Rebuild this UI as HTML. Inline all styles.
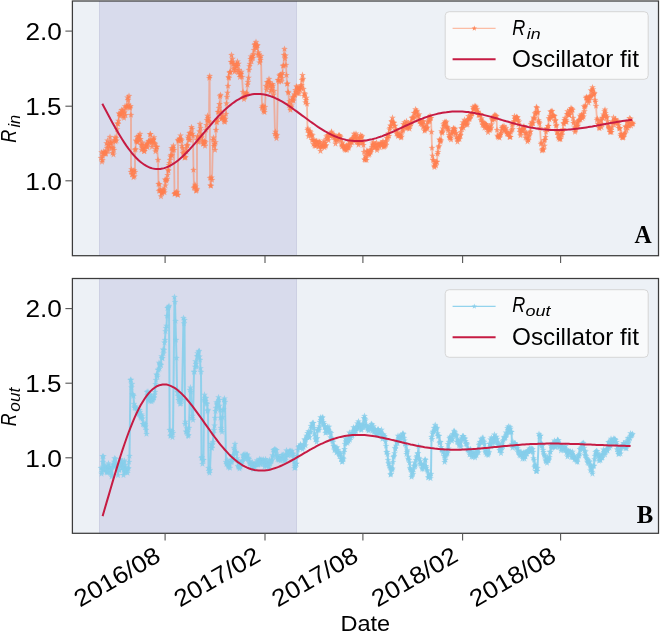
<!DOCTYPE html>
<html><head><meta charset="utf-8"><style>
html,body{margin:0;padding:0;background:#fff;}
svg{display:block}
</style></head><body>
<svg width="662" height="632" viewBox="0 0 662 632">
<defs><path id="s" d="M0.00,-3.50 L0.85,-1.17 L3.33,-1.08 L1.38,0.45 L2.06,2.83 L0.00,1.45 L-2.06,2.83 L-1.38,0.45 L-3.33,-1.08 L-0.85,-1.17Z"/><clipPath id="ct"><rect x="72.4" y="1.0" width="586.1" height="254.7"/></clipPath><clipPath id="cb"><rect x="72.4" y="278.5" width="586.1" height="254.79999999999995"/></clipPath></defs>
<rect width="662" height="632" fill="#fff"/>
<rect x="72.4" y="1.0" width="586.1" height="254.7" fill="#edf1f6"/>
<rect x="99.0" y="1.0" width="198.0" height="254.7" fill="#d8dbec"/>
<path d="M99.5,1.0V255.7M296.5,1.0V255.7" stroke="#cdd0e3" stroke-width="1"/>
<rect x="72.4" y="278.5" width="586.1" height="254.79999999999995" fill="#edf1f6"/>
<rect x="99.0" y="278.5" width="198.0" height="254.79999999999995" fill="#d8dbec"/>
<path d="M99.5,278.5V533.3M296.5,278.5V533.3" stroke="#cdd0e3" stroke-width="1"/>
<g clip-path="url(#ct)">
<path d="M101.0,158.0 L101.5,152.4 L102.0,161.9 L102.5,160.2 L103.0,156.0 L103.5,151.6 L104.0,153.9 L104.5,152.3 L105.0,152.0 L105.5,153.1 L106.0,154.0 L106.5,143.3 L107.0,148.0 L107.5,140.6 L108.0,151.2 L108.5,144.8 L109.0,145.0 L109.5,148.2 L110.0,137.0 L110.5,142.7 L111.0,143.0 L111.5,147.4 L112.0,141.7 L112.5,153.0 L113.0,148.0 L113.5,154.6 L114.0,150.0 L114.5,140.4 L115.0,137.4 L115.5,141.6 L116.0,138.0 L116.5,140.6 L117.0,129.3 L117.5,123.5 L118.0,124.0 L118.5,120.9 L119.0,113.4 L119.5,114.1 L120.0,116.0 L120.5,114.4 L121.0,114.4 L121.5,110.0 L122.0,113.0 L122.5,110.5 L123.0,111.6 L123.5,116.2 L124.0,118.0 L124.5,112.6 L125.0,106.3 L125.5,115.2 L126.0,108.0 L126.5,106.8 L127.0,106.0 L127.5,97.6 L128.0,100.0 L128.5,104.9 L129.0,96.0 L129.5,107.0 L130.0,108.0 L130.5,106.2 L131.0,115.0 L131.0,172.0 L131.5,169.4 L132.0,174.6 L132.5,174.2 L133.0,171.0 L133.5,177.4 L134.0,170.4 L134.5,176.4 L135.0,172.0 L135.0,150.0 L135.5,149.1 L136.0,140.7 L136.5,141.5 L137.0,137.0 L137.5,142.1 L138.0,141.3 L138.5,136.3 L139.0,136.0 L139.5,139.5 L140.0,134.0 L140.5,139.1 L141.0,145.0 L141.5,149.9 L142.0,145.3 L142.5,142.7 L143.0,148.0 L143.5,148.9 L144.0,151.3 L144.5,151.2 L145.0,149.0 L145.5,146.0 L146.0,145.6 L146.5,145.4 L147.0,144.0 L147.5,147.4 L148.0,143.3 L148.5,141.0 L149.0,142.0 L149.5,141.4 L150.0,134.4 L150.5,134.1 L151.0,140.0 L151.5,142.8 L152.0,146.8 L152.5,141.3 L153.0,140.0 L153.5,139.5 L154.0,137.4 L154.5,143.0 L155.0,144.0 L155.5,151.5 L156.0,149.3 L156.5,146.8 L157.0,147.0 L158.0,160.0 L158.5,184.0 L159.0,191.0 L159.5,184.3 L160.0,190.0 L160.5,190.9 L161.0,196.5 L161.5,193.1 L162.0,193.0 L162.5,191.8 L163.0,189.0 L163.5,191.3 L164.0,190.0 L164.5,192.5 L165.0,179.6 L165.5,185.6 L166.0,180.0 L166.5,181.0 L167.0,179.2 L167.5,175.1 L168.0,170.0 L168.5,170.9 L169.0,165.2 L169.5,163.2 L170.0,160.0 L170.5,156.7 L171.0,155.0 L171.5,148.4 L172.0,155.6 L172.5,150.5 L173.0,148.0 L173.5,145.7 L174.0,150.0 L174.5,194.0 L175.0,193.7 L175.5,193.2 L176.0,193.0 L176.5,191.9 L177.0,192.3 L177.5,194.9 L178.0,195.0 L178.0,140.0 L178.5,141.1 L179.0,140.7 L179.5,138.8 L180.0,139.0 L180.5,135.6 L181.0,139.5 L181.5,140.7 L182.0,146.0 L182.5,148.4 L183.0,153.0 L183.5,153.8 L184.0,152.0 L184.5,157.8 L185.0,157.0 L185.5,157.5 L186.0,148.3 L186.5,151.8 L187.0,145.0 L187.5,145.7 L188.0,137.9 L188.5,135.9 L189.0,140.0 L189.5,133.2 L190.0,139.8 L190.5,132.7 L191.0,134.0 L191.5,127.2 L192.0,129.0 L192.5,133.9 L193.0,136.0 L193.5,170.0 L194.0,188.0 L194.5,187.0 L195.0,184.8 L195.5,186.5 L196.0,191.0 L196.5,190.3 L197.0,189.0 L197.0,140.0 L197.5,136.3 L198.0,137.5 L198.5,142.3 L199.0,140.0 L199.5,131.5 L200.0,124.0 L200.5,128.0 L201.0,136.0 L201.5,137.7 L202.0,134.8 L202.5,140.8 L203.0,144.0 L203.5,143.6 L204.0,141.6 L204.5,141.2 L205.0,146.0 L205.5,142.4 L206.0,130.0 L206.5,125.1 L207.0,120.0 L207.5,115.8 L208.0,118.0 L208.5,121.2 L209.0,122.0 L209.3,78.0 L209.7,76.0 L210.0,178.0 L210.5,185.5 L211.0,186.0 L211.5,177.7 L212.0,180.0 L213.0,140.0 L213.5,137.7 L214.0,146.0 L214.5,144.1 L215.0,150.0 L215.5,142.4 L216.0,130.0 L216.5,122.3 L217.0,122.0 L217.5,119.3 L218.0,112.0 L218.5,112.0 L219.0,108.0 L219.5,104.2 L220.0,96.3 L220.5,95.0 L221.0,112.0 L221.5,118.7 L222.0,118.3 L222.5,116.7 L223.0,118.0 L223.5,116.0 L224.0,121.6 L224.5,119.8 L225.0,122.0 L225.5,118.8 L226.0,114.0 L226.5,103.5 L227.0,97.0 L227.5,92.9 L228.0,86.0 L228.5,77.1 L229.0,78.0 L229.5,72.8 L230.0,72.0 L230.5,72.1 L231.0,62.0 L231.5,55.0 L232.0,62.1 L232.5,58.9 L233.0,64.0 L233.5,68.9 L234.0,63.9 L234.5,71.8 L235.0,68.0 L235.5,70.2 L236.0,66.1 L236.5,63.8 L237.0,66.0 L237.5,61.6 L238.0,72.2 L238.5,63.9 L239.0,70.0 L239.5,74.5 L240.0,77.1 L240.5,73.8 L241.0,74.0 L241.5,71.9 L242.0,77.0 L243.0,92.0 L243.5,97.0 L244.0,99.2 L244.5,97.2 L245.0,96.0 L245.5,95.6 L246.0,93.7 L246.5,92.8 L247.0,94.0 L247.5,84.8 L248.0,82.0 L248.5,77.9 L249.0,70.0 L249.5,66.3 L250.0,64.0 L250.5,59.1 L251.0,56.6 L251.5,61.3 L252.0,58.0 L252.5,55.8 L253.0,58.0 L253.5,54.0 L254.0,50.0 L254.5,45.1 L255.0,44.0 L255.5,47.1 L256.0,42.0 L256.5,48.4 L257.0,46.0 L257.5,45.2 L258.0,55.0 L258.5,52.5 L259.0,54.6 L259.5,62.6 L260.0,58.0 L260.5,60.1 L261.0,56.0 L262.0,108.0 L262.5,106.7 L263.0,105.8 L263.5,111.4 L264.0,110.0 L264.5,112.2 L265.0,107.0 L266.0,86.0 L266.5,89.8 L267.0,82.3 L267.5,87.2 L268.0,82.0 L268.5,82.6 L269.0,79.0 L269.5,82.3 L270.0,86.0 L270.5,91.8 L271.0,84.1 L271.5,90.0 L272.0,88.0 L272.5,84.2 L273.0,85.9 L273.5,94.8 L274.0,91.0 L275.0,134.0 L275.5,131.8 L276.0,136.0 L276.5,138.4 L277.0,135.0 L278.0,80.0 L278.5,80.1 L279.0,81.8 L279.5,75.5 L280.0,76.0 L280.5,74.7 L281.0,74.7 L281.5,81.5 L282.0,78.0 L282.5,73.1 L283.0,66.0 L283.5,65.5 L284.0,55.0 L284.5,49.0 L285.0,58.6 L285.5,55.7 L286.0,65.0 L286.5,75.1 L287.0,84.0 L287.5,83.6 L288.0,92.0 L288.5,92.9 L289.0,104.0 L289.5,101.3 L290.0,108.0 L290.5,110.0 L291.0,107.2 L291.5,105.6 L292.0,100.0 L292.5,97.5 L293.0,99.8 L293.5,100.9 L294.0,97.0 L294.5,94.4 L295.0,95.3 L295.5,90.2 L296.0,92.0 L296.5,86.4 L297.0,87.4 L297.5,93.3 L298.0,88.0 L298.5,89.2 L299.0,93.7 L299.5,89.0 L300.0,90.0 L300.5,85.5 L301.0,87.6 L301.5,85.4 L302.0,80.0 L302.5,75.1 L303.0,79.0 L303.5,89.0 L304.0,96.0 L304.5,93.3 L305.0,94.5 L305.5,102.5 L306.0,100.0 L306.5,97.9 L307.0,104.0 L307.5,130.0 L308.0,128.7 L308.5,136.4 L309.0,133.0 L309.5,133.0 L310.0,131.0 L310.5,132.3 L311.0,136.0 L311.5,134.7 L312.0,140.2 L312.5,135.4 L313.0,140.0 L313.5,144.2 L314.0,139.9 L314.5,145.7 L315.0,142.0 L315.5,146.2 L316.0,141.1 L316.5,141.3 L317.0,144.0 L317.5,144.3 L318.0,141.4 L318.5,146.9 L319.0,146.0 L319.5,142.1 L320.0,142.1 L320.5,151.1 L321.0,147.0 L321.5,144.9 L322.0,147.4 L322.5,145.8 L323.0,146.0 L323.5,143.6 L324.0,140.6 L324.5,147.5 L325.0,143.0 L325.5,146.2 L326.0,145.2 L326.5,136.5 L327.0,139.0 L327.5,135.4 L328.0,138.1 L328.5,140.3 L329.0,135.0 L329.5,134.9 L330.0,135.7 L330.5,135.0 L331.0,133.0 L331.5,131.8 L332.0,135.4 L332.5,134.3 L333.0,137.0 L333.5,135.5 L334.0,134.7 L334.5,137.3 L335.0,140.0 L335.5,143.9 L336.0,138.5 L336.5,139.9 L337.0,138.0 L337.5,138.8 L338.0,141.0 L338.5,135.5 L339.0,136.0 L339.5,135.3 L340.0,136.4 L340.5,137.4 L341.0,140.0 L341.5,144.6 L342.0,146.5 L342.5,142.7 L343.0,146.0 L343.5,145.3 L344.0,147.9 L344.5,149.0 L345.0,149.0 L345.5,150.1 L346.0,147.2 L346.5,145.4 L347.0,150.0 L347.5,146.9 L348.0,144.7 L348.5,148.2 L349.0,147.0 L349.5,141.9 L350.0,140.7 L350.5,144.5 L351.0,142.0 L351.5,139.1 L352.0,142.6 L352.5,138.9 L353.0,138.0 L353.5,140.8 L354.0,133.9 L354.5,136.5 L355.0,136.0 L355.5,139.4 L356.0,133.7 L356.5,142.3 L357.0,139.0 L357.5,136.6 L358.0,142.5 L358.5,144.9 L359.0,141.0 L359.5,143.1 L360.0,137.9 L360.5,135.2 L361.0,138.0 L361.5,137.1 L362.0,136.0 L362.5,142.8 L363.0,142.0 L363.5,145.1 L364.0,152.0 L364.5,159.5 L365.0,160.0 L365.5,155.8 L366.0,158.0 L366.5,160.2 L367.0,150.8 L367.5,151.8 L368.0,152.0 L368.5,155.1 L369.0,153.7 L369.5,154.2 L370.0,150.0 L370.5,152.3 L371.0,150.7 L371.5,149.5 L372.0,147.0 L372.5,143.6 L373.0,145.4 L373.5,142.4 L374.0,145.0 L374.5,147.4 L375.0,147.5 L375.5,144.3 L376.0,147.0 L376.5,142.6 L377.0,150.2 L377.5,148.3 L378.0,145.0 L378.5,145.2 L379.0,144.9 L379.5,147.4 L380.0,144.0 L380.5,143.8 L381.0,143.6 L381.5,143.3 L382.0,145.0 L382.5,143.1 L383.0,141.2 L383.5,147.1 L384.0,146.0 L384.5,145.0 L385.0,146.1 L385.5,141.3 L386.0,145.0 L386.5,141.9 L387.0,138.2 L387.5,136.4 L388.0,138.0 L388.5,133.3 L389.0,136.0 L389.5,129.6 L390.0,128.0 L390.5,125.6 L391.0,126.0 L391.5,121.1 L392.0,122.0 L392.5,117.8 L393.0,122.8 L393.5,122.8 L394.0,123.0 L394.5,126.1 L395.0,125.9 L395.5,129.9 L396.0,130.0 L396.5,133.6 L397.0,130.6 L397.5,134.5 L398.0,136.0 L398.5,135.8 L399.0,133.5 L399.5,135.2 L400.0,136.0 L400.5,135.5 L401.0,137.7 L401.5,136.8 L402.0,132.0 L402.5,128.7 L403.0,130.8 L403.5,124.2 L404.0,127.0 L404.5,122.4 L405.0,125.6 L405.5,128.1 L406.0,124.0 L406.5,121.2 L407.0,126.9 L407.5,128.2 L408.0,125.0 L408.5,123.6 L409.0,127.2 L409.5,128.9 L410.0,126.0 L410.5,122.8 L411.0,123.8 L411.5,122.1 L412.0,118.0 L412.5,117.6 L413.0,118.7 L413.5,117.8 L414.0,113.0 L414.5,116.9 L415.0,113.1 L415.5,109.3 L416.0,112.0 L416.5,110.8 L417.0,111.5 L417.5,115.6 L418.0,116.0 L418.5,119.6 L419.0,114.5 L419.5,121.4 L420.0,121.0 L420.5,123.7 L421.0,121.1 L421.5,123.4 L422.0,124.0 L422.5,121.5 L423.0,127.1 L423.5,121.4 L424.0,126.0 L424.5,130.8 L425.0,129.8 L425.5,128.7 L426.0,128.0 L426.5,124.4 L427.0,128.7 L427.5,127.6 L428.0,122.0 L428.5,117.3 L429.0,121.5 L429.5,120.6 L430.0,116.0 L430.5,118.4 L431.0,118.0 L431.5,132.0 L432.0,148.0 L432.5,155.8 L433.0,160.0 L433.5,160.5 L434.0,165.8 L434.5,167.2 L435.0,164.0 L435.5,162.4 L436.0,165.7 L436.5,161.9 L437.0,162.0 L437.5,154.0 L438.0,152.0 L438.5,147.4 L439.0,146.0 L439.5,139.6 L440.0,140.0 L440.5,141.9 L441.0,140.6 L441.5,131.3 L442.0,133.0 L442.5,132.2 L443.0,128.7 L443.5,124.3 L444.0,126.0 L444.5,123.2 L445.0,121.7 L445.5,123.0 L446.0,126.9 L446.5,121.9 L447.0,128.0 L447.5,127.0 L448.0,130.9 L448.5,128.9 L449.0,135.0 L449.5,137.1 L450.0,138.0 L450.5,138.0 L451.0,139.7 L451.5,132.7 L452.0,134.0 L452.5,130.8 L453.0,131.9 L453.5,128.2 L454.0,129.0 L454.5,130.8 L455.0,128.8 L455.5,133.7 L456.0,133.0 L456.5,137.1 L457.0,138.8 L457.5,141.8 L458.0,139.0 L458.5,138.4 L459.0,136.9 L459.5,139.2 L460.0,135.0 L460.5,135.7 L461.0,132.1 L461.5,128.7 L462.0,128.0 L462.5,125.1 L463.0,122.5 L463.5,127.8 L464.0,124.0 L464.5,119.8 L465.0,124.7 L465.5,122.2 L466.0,121.0 L466.5,124.9 L467.0,122.8 L467.5,124.5 L468.0,120.0 L468.5,116.2 L469.0,119.0 L469.5,119.2 L470.0,118.0 L470.5,115.3 L471.0,116.0 L471.5,113.7 L472.0,114.0 L472.5,113.0 L473.0,107.0 L473.5,109.7 L474.0,109.0 L474.5,107.9 L475.0,105.9 L475.5,107.0 L476.0,106.8 L476.5,110.9 L477.0,109.0 L477.5,112.2 L478.0,111.9 L478.5,114.8 L479.0,115.0 L479.5,115.1 L480.0,114.8 L480.5,114.3 L481.0,120.0 L481.5,118.5 L482.0,121.9 L482.5,124.9 L483.0,122.0 L483.5,125.5 L484.0,123.1 L484.5,127.9 L485.0,124.0 L485.5,124.2 L486.0,128.0 L486.5,124.7 L487.0,126.0 L487.5,129.2 L488.0,132.4 L488.5,127.2 L489.0,130.0 L489.5,126.5 L490.0,130.1 L490.5,128.8 L491.0,128.0 L491.5,124.5 L492.0,119.0 L492.5,120.3 L493.0,119.0 L493.5,117.3 L494.0,116.1 L494.5,119.3 L495.0,115.0 L495.5,116.1 L496.0,117.8 L496.5,116.0 L497.0,130.0 L497.5,135.9 L498.0,136.9 L498.5,137.0 L499.0,136.3 L499.5,137.9 L500.0,135.0 L500.5,134.5 L501.0,132.8 L501.5,130.9 L502.0,128.0 L502.5,126.7 L503.0,128.2 L503.5,127.7 L504.0,126.0 L504.5,130.4 L505.0,129.5 L505.5,130.6 L506.0,128.0 L506.5,131.9 L507.0,133.8 L507.5,133.4 L508.0,134.0 L508.5,133.6 L509.0,133.9 L509.5,137.0 L510.0,137.2 L510.5,137.0 L511.0,132.0 L511.5,130.4 L512.0,124.9 L512.5,129.0 L513.0,124.0 L513.5,122.6 L514.0,121.2 L514.5,116.2 L515.0,119.0 L515.5,118.4 L516.0,119.9 L516.5,117.0 L517.0,117.3 L517.5,117.7 L518.0,120.0 L518.5,124.4 L519.0,121.7 L519.5,129.1 L520.0,132.0 L520.5,135.5 L521.0,132.7 L521.5,129.6 L522.0,130.0 L522.5,130.7 L523.0,128.9 L523.5,127.0 L524.0,126.4 L524.5,128.4 L525.0,133.0 L525.5,137.7 L526.0,133.4 L526.5,132.9 L527.0,138.0 L527.5,141.6 L528.0,139.5 L528.5,140.0 L529.0,136.1 L529.5,134.8 L530.0,132.0 L530.5,131.6 L531.0,124.0 L531.5,125.9 L532.0,122.0 L532.5,123.2 L533.0,123.3 L533.5,117.7 L534.0,119.0 L534.5,118.2 L535.0,113.1 L535.5,114.3 L536.0,112.0 L536.5,107.1 L537.0,108.0 L537.5,112.6 L538.0,112.0 L538.5,120.3 L539.0,122.0 L539.5,123.5 L540.0,128.0 L541.0,144.0 L541.5,142.8 L542.0,150.7 L542.5,149.6 L543.0,149.0 L543.5,149.8 L544.0,140.3 L544.5,145.8 L545.0,140.0 L545.5,137.1 L546.0,132.0 L546.5,128.8 L547.0,128.4 L547.5,129.9 L548.0,126.0 L548.5,126.1 L549.0,118.2 L549.5,119.6 L550.0,116.0 L550.5,111.7 L551.0,117.8 L551.5,111.7 L552.0,111.0 L552.5,116.0 L553.0,115.6 L553.5,115.7 L554.0,116.0 L554.5,116.4 L555.0,121.2 L555.5,120.2 L556.0,126.0 L556.5,125.0 L557.0,132.4 L557.5,131.5 L558.0,135.0 L558.5,138.0 L559.0,134.2 L559.5,139.2 L560.0,138.0 L560.5,139.2 L561.0,134.7 L561.5,132.2 L562.0,135.0 L562.5,131.3 L563.0,129.4 L563.5,123.1 L564.0,124.0 L564.5,120.2 L565.0,118.0 L565.5,121.9 L566.0,120.0 L566.5,122.0 L567.0,114.4 L567.5,111.3 L568.0,114.0 L568.5,114.8 L569.0,114.8 L569.5,115.2 L570.0,110.0 L570.5,110.8 L571.0,108.1 L571.5,112.3 L572.0,109.0 L572.5,110.1 L573.0,118.0 L573.5,123.2 L574.0,121.4 L574.5,127.6 L575.0,132.0 L575.5,130.5 L576.0,127.9 L576.5,124.5 L577.0,126.0 L577.5,122.1 L578.0,125.9 L578.5,121.2 L579.0,120.0 L579.5,120.0 L580.0,115.9 L580.5,119.7 L581.0,117.0 L581.5,114.7 L582.0,116.3 L582.5,118.4 L583.0,114.0 L583.5,116.7 L584.0,106.4 L584.5,111.4 L585.0,107.0 L585.5,105.7 L586.0,98.0 L586.5,96.9 L587.0,97.9 L587.5,100.2 L588.0,100.0 L588.5,102.8 L589.0,97.1 L589.5,100.4 L590.0,96.0 L590.5,97.1 L591.0,90.4 L591.5,96.0 L592.0,91.0 L592.5,87.4 L593.0,89.3 L593.5,94.7 L594.0,94.0 L594.5,93.0 L595.0,100.0 L595.5,101.9 L596.0,106.0 L597.0,120.0 L597.5,118.7 L598.0,124.0 L598.5,123.9 L599.0,127.6 L599.5,128.4 L600.0,125.0 L600.5,120.6 L601.0,120.5 L601.5,127.3 L602.0,124.0 L602.5,117.9 L603.0,118.0 L603.5,114.6 L604.0,116.0 L604.5,111.3 L605.0,109.7 L605.5,113.0 L606.0,115.6 L606.5,117.9 L607.0,117.0 L607.5,121.4 L608.0,125.6 L608.5,126.7 L609.0,128.0 L609.5,129.0 L610.0,132.0 L610.5,132.2 L611.0,130.0 L611.5,132.2 L612.0,127.3 L612.5,121.7 L613.0,122.0 L613.5,117.5 L614.0,124.9 L614.5,121.3 L615.0,120.0 L615.5,119.1 L616.0,121.9 L616.5,122.0 L617.0,122.0 L617.5,123.7 L618.0,121.0 L618.5,125.2 L619.0,128.0 L619.5,128.7 L620.0,128.3 L620.5,135.9 L621.0,134.0 L621.5,134.3 L622.0,137.5 L622.5,137.0 L623.0,137.9 L623.5,137.2 L624.0,134.0 L624.5,134.2 L625.0,132.8 L625.5,126.5 L626.0,127.0 L626.5,130.3 L627.0,121.9 L627.5,127.8 L628.0,123.0 L628.5,125.9 L629.0,125.7 L629.5,118.2 L630.0,122.0 L630.5,118.8 L631.0,125.8 L631.5,123.2 L632.0,124.0 L632.5,122.8 L633.0,124.0" fill="none" stroke="#ff7f50" stroke-opacity="0.5" stroke-width="1.8"/>
<g fill="#ff7f50" fill-opacity="0.7">
<use href="#s" x="101.0" y="158.0"/>
<use href="#s" x="101.5" y="152.4"/>
<use href="#s" x="102.0" y="161.9"/>
<use href="#s" x="102.5" y="160.2"/>
<use href="#s" x="103.0" y="156.0"/>
<use href="#s" x="103.5" y="151.6"/>
<use href="#s" x="104.0" y="153.9"/>
<use href="#s" x="104.5" y="152.3"/>
<use href="#s" x="105.0" y="152.0"/>
<use href="#s" x="105.5" y="153.1"/>
<use href="#s" x="106.0" y="154.0"/>
<use href="#s" x="106.5" y="143.3"/>
<use href="#s" x="107.0" y="148.0"/>
<use href="#s" x="107.5" y="140.6"/>
<use href="#s" x="108.0" y="151.2"/>
<use href="#s" x="108.5" y="144.8"/>
<use href="#s" x="109.0" y="145.0"/>
<use href="#s" x="109.5" y="148.2"/>
<use href="#s" x="110.0" y="137.0"/>
<use href="#s" x="110.5" y="142.7"/>
<use href="#s" x="111.0" y="143.0"/>
<use href="#s" x="111.5" y="147.4"/>
<use href="#s" x="112.0" y="141.7"/>
<use href="#s" x="112.5" y="153.0"/>
<use href="#s" x="113.0" y="148.0"/>
<use href="#s" x="113.5" y="154.6"/>
<use href="#s" x="114.0" y="150.0"/>
<use href="#s" x="114.5" y="140.4"/>
<use href="#s" x="115.0" y="137.4"/>
<use href="#s" x="115.5" y="141.6"/>
<use href="#s" x="116.0" y="138.0"/>
<use href="#s" x="116.5" y="140.6"/>
<use href="#s" x="117.0" y="129.3"/>
<use href="#s" x="117.5" y="123.5"/>
<use href="#s" x="118.0" y="124.0"/>
<use href="#s" x="118.5" y="120.9"/>
<use href="#s" x="119.0" y="113.4"/>
<use href="#s" x="119.5" y="114.1"/>
<use href="#s" x="120.0" y="116.0"/>
<use href="#s" x="120.5" y="114.4"/>
<use href="#s" x="121.0" y="114.4"/>
<use href="#s" x="121.5" y="110.0"/>
<use href="#s" x="122.0" y="113.0"/>
<use href="#s" x="122.5" y="110.5"/>
<use href="#s" x="123.0" y="111.6"/>
<use href="#s" x="123.5" y="116.2"/>
<use href="#s" x="124.0" y="118.0"/>
<use href="#s" x="124.5" y="112.6"/>
<use href="#s" x="125.0" y="106.3"/>
<use href="#s" x="125.5" y="115.2"/>
<use href="#s" x="126.0" y="108.0"/>
<use href="#s" x="126.5" y="106.8"/>
<use href="#s" x="127.0" y="106.0"/>
<use href="#s" x="127.5" y="97.6"/>
<use href="#s" x="128.0" y="100.0"/>
<use href="#s" x="128.5" y="104.9"/>
<use href="#s" x="129.0" y="96.0"/>
<use href="#s" x="129.5" y="107.0"/>
<use href="#s" x="130.0" y="108.0"/>
<use href="#s" x="130.5" y="106.2"/>
<use href="#s" x="131.0" y="115.0"/>
<use href="#s" x="131.0" y="172.0"/>
<use href="#s" x="131.5" y="169.4"/>
<use href="#s" x="132.0" y="174.6"/>
<use href="#s" x="132.5" y="174.2"/>
<use href="#s" x="133.0" y="171.0"/>
<use href="#s" x="133.5" y="177.4"/>
<use href="#s" x="134.0" y="170.4"/>
<use href="#s" x="134.5" y="176.4"/>
<use href="#s" x="135.0" y="172.0"/>
<use href="#s" x="135.0" y="150.0"/>
<use href="#s" x="135.5" y="149.1"/>
<use href="#s" x="136.0" y="140.7"/>
<use href="#s" x="136.5" y="141.5"/>
<use href="#s" x="137.0" y="137.0"/>
<use href="#s" x="137.5" y="142.1"/>
<use href="#s" x="138.0" y="141.3"/>
<use href="#s" x="138.5" y="136.3"/>
<use href="#s" x="139.0" y="136.0"/>
<use href="#s" x="139.5" y="139.5"/>
<use href="#s" x="140.0" y="134.0"/>
<use href="#s" x="140.5" y="139.1"/>
<use href="#s" x="141.0" y="145.0"/>
<use href="#s" x="141.5" y="149.9"/>
<use href="#s" x="142.0" y="145.3"/>
<use href="#s" x="142.5" y="142.7"/>
<use href="#s" x="143.0" y="148.0"/>
<use href="#s" x="143.5" y="148.9"/>
<use href="#s" x="144.0" y="151.3"/>
<use href="#s" x="144.5" y="151.2"/>
<use href="#s" x="145.0" y="149.0"/>
<use href="#s" x="145.5" y="146.0"/>
<use href="#s" x="146.0" y="145.6"/>
<use href="#s" x="146.5" y="145.4"/>
<use href="#s" x="147.0" y="144.0"/>
<use href="#s" x="147.5" y="147.4"/>
<use href="#s" x="148.0" y="143.3"/>
<use href="#s" x="148.5" y="141.0"/>
<use href="#s" x="149.0" y="142.0"/>
<use href="#s" x="149.5" y="141.4"/>
<use href="#s" x="150.0" y="134.4"/>
<use href="#s" x="150.5" y="134.1"/>
<use href="#s" x="151.0" y="140.0"/>
<use href="#s" x="151.5" y="142.8"/>
<use href="#s" x="152.0" y="146.8"/>
<use href="#s" x="152.5" y="141.3"/>
<use href="#s" x="153.0" y="140.0"/>
<use href="#s" x="153.5" y="139.5"/>
<use href="#s" x="154.0" y="137.4"/>
<use href="#s" x="154.5" y="143.0"/>
<use href="#s" x="155.0" y="144.0"/>
<use href="#s" x="155.5" y="151.5"/>
<use href="#s" x="156.0" y="149.3"/>
<use href="#s" x="156.5" y="146.8"/>
<use href="#s" x="157.0" y="147.0"/>
<use href="#s" x="158.0" y="160.0"/>
<use href="#s" x="158.5" y="184.0"/>
<use href="#s" x="159.0" y="191.0"/>
<use href="#s" x="159.5" y="184.3"/>
<use href="#s" x="160.0" y="190.0"/>
<use href="#s" x="160.5" y="190.9"/>
<use href="#s" x="161.0" y="196.5"/>
<use href="#s" x="161.5" y="193.1"/>
<use href="#s" x="162.0" y="193.0"/>
<use href="#s" x="162.5" y="191.8"/>
<use href="#s" x="163.0" y="189.0"/>
<use href="#s" x="163.5" y="191.3"/>
<use href="#s" x="164.0" y="190.0"/>
<use href="#s" x="164.5" y="192.5"/>
<use href="#s" x="165.0" y="179.6"/>
<use href="#s" x="165.5" y="185.6"/>
<use href="#s" x="166.0" y="180.0"/>
<use href="#s" x="166.5" y="181.0"/>
<use href="#s" x="167.0" y="179.2"/>
<use href="#s" x="167.5" y="175.1"/>
<use href="#s" x="168.0" y="170.0"/>
<use href="#s" x="168.5" y="170.9"/>
<use href="#s" x="169.0" y="165.2"/>
<use href="#s" x="169.5" y="163.2"/>
<use href="#s" x="170.0" y="160.0"/>
<use href="#s" x="170.5" y="156.7"/>
<use href="#s" x="171.0" y="155.0"/>
<use href="#s" x="171.5" y="148.4"/>
<use href="#s" x="172.0" y="155.6"/>
<use href="#s" x="172.5" y="150.5"/>
<use href="#s" x="173.0" y="148.0"/>
<use href="#s" x="173.5" y="145.7"/>
<use href="#s" x="174.0" y="150.0"/>
<use href="#s" x="174.5" y="194.0"/>
<use href="#s" x="175.0" y="193.7"/>
<use href="#s" x="175.5" y="193.2"/>
<use href="#s" x="176.0" y="193.0"/>
<use href="#s" x="176.5" y="191.9"/>
<use href="#s" x="177.0" y="192.3"/>
<use href="#s" x="177.5" y="194.9"/>
<use href="#s" x="178.0" y="195.0"/>
<use href="#s" x="178.0" y="140.0"/>
<use href="#s" x="178.5" y="141.1"/>
<use href="#s" x="179.0" y="140.7"/>
<use href="#s" x="179.5" y="138.8"/>
<use href="#s" x="180.0" y="139.0"/>
<use href="#s" x="180.5" y="135.6"/>
<use href="#s" x="181.0" y="139.5"/>
<use href="#s" x="181.5" y="140.7"/>
<use href="#s" x="182.0" y="146.0"/>
<use href="#s" x="182.5" y="148.4"/>
<use href="#s" x="183.0" y="153.0"/>
<use href="#s" x="183.5" y="153.8"/>
<use href="#s" x="184.0" y="152.0"/>
<use href="#s" x="184.5" y="157.8"/>
<use href="#s" x="185.0" y="157.0"/>
<use href="#s" x="185.5" y="157.5"/>
<use href="#s" x="186.0" y="148.3"/>
<use href="#s" x="186.5" y="151.8"/>
<use href="#s" x="187.0" y="145.0"/>
<use href="#s" x="187.5" y="145.7"/>
<use href="#s" x="188.0" y="137.9"/>
<use href="#s" x="188.5" y="135.9"/>
<use href="#s" x="189.0" y="140.0"/>
<use href="#s" x="189.5" y="133.2"/>
<use href="#s" x="190.0" y="139.8"/>
<use href="#s" x="190.5" y="132.7"/>
<use href="#s" x="191.0" y="134.0"/>
<use href="#s" x="191.5" y="127.2"/>
<use href="#s" x="192.0" y="129.0"/>
<use href="#s" x="192.5" y="133.9"/>
<use href="#s" x="193.0" y="136.0"/>
<use href="#s" x="193.5" y="170.0"/>
<use href="#s" x="194.0" y="188.0"/>
<use href="#s" x="194.5" y="187.0"/>
<use href="#s" x="195.0" y="184.8"/>
<use href="#s" x="195.5" y="186.5"/>
<use href="#s" x="196.0" y="191.0"/>
<use href="#s" x="196.5" y="190.3"/>
<use href="#s" x="197.0" y="189.0"/>
<use href="#s" x="197.0" y="140.0"/>
<use href="#s" x="197.5" y="136.3"/>
<use href="#s" x="198.0" y="137.5"/>
<use href="#s" x="198.5" y="142.3"/>
<use href="#s" x="199.0" y="140.0"/>
<use href="#s" x="199.5" y="131.5"/>
<use href="#s" x="200.0" y="124.0"/>
<use href="#s" x="200.5" y="128.0"/>
<use href="#s" x="201.0" y="136.0"/>
<use href="#s" x="201.5" y="137.7"/>
<use href="#s" x="202.0" y="134.8"/>
<use href="#s" x="202.5" y="140.8"/>
<use href="#s" x="203.0" y="144.0"/>
<use href="#s" x="203.5" y="143.6"/>
<use href="#s" x="204.0" y="141.6"/>
<use href="#s" x="204.5" y="141.2"/>
<use href="#s" x="205.0" y="146.0"/>
<use href="#s" x="205.5" y="142.4"/>
<use href="#s" x="206.0" y="130.0"/>
<use href="#s" x="206.5" y="125.1"/>
<use href="#s" x="207.0" y="120.0"/>
<use href="#s" x="207.5" y="115.8"/>
<use href="#s" x="208.0" y="118.0"/>
<use href="#s" x="208.5" y="121.2"/>
<use href="#s" x="209.0" y="122.0"/>
<use href="#s" x="209.3" y="78.0"/>
<use href="#s" x="209.7" y="76.0"/>
<use href="#s" x="210.0" y="178.0"/>
<use href="#s" x="210.5" y="185.5"/>
<use href="#s" x="211.0" y="186.0"/>
<use href="#s" x="211.5" y="177.7"/>
<use href="#s" x="212.0" y="180.0"/>
<use href="#s" x="213.0" y="140.0"/>
<use href="#s" x="213.5" y="137.7"/>
<use href="#s" x="214.0" y="146.0"/>
<use href="#s" x="214.5" y="144.1"/>
<use href="#s" x="215.0" y="150.0"/>
<use href="#s" x="215.5" y="142.4"/>
<use href="#s" x="216.0" y="130.0"/>
<use href="#s" x="216.5" y="122.3"/>
<use href="#s" x="217.0" y="122.0"/>
<use href="#s" x="217.5" y="119.3"/>
<use href="#s" x="218.0" y="112.0"/>
<use href="#s" x="218.5" y="112.0"/>
<use href="#s" x="219.0" y="108.0"/>
<use href="#s" x="219.5" y="104.2"/>
<use href="#s" x="220.0" y="96.3"/>
<use href="#s" x="220.5" y="95.0"/>
<use href="#s" x="221.0" y="112.0"/>
<use href="#s" x="221.5" y="118.7"/>
<use href="#s" x="222.0" y="118.3"/>
<use href="#s" x="222.5" y="116.7"/>
<use href="#s" x="223.0" y="118.0"/>
<use href="#s" x="223.5" y="116.0"/>
<use href="#s" x="224.0" y="121.6"/>
<use href="#s" x="224.5" y="119.8"/>
<use href="#s" x="225.0" y="122.0"/>
<use href="#s" x="225.5" y="118.8"/>
<use href="#s" x="226.0" y="114.0"/>
<use href="#s" x="226.5" y="103.5"/>
<use href="#s" x="227.0" y="97.0"/>
<use href="#s" x="227.5" y="92.9"/>
<use href="#s" x="228.0" y="86.0"/>
<use href="#s" x="228.5" y="77.1"/>
<use href="#s" x="229.0" y="78.0"/>
<use href="#s" x="229.5" y="72.8"/>
<use href="#s" x="230.0" y="72.0"/>
<use href="#s" x="230.5" y="72.1"/>
<use href="#s" x="231.0" y="62.0"/>
<use href="#s" x="231.5" y="55.0"/>
<use href="#s" x="232.0" y="62.1"/>
<use href="#s" x="232.5" y="58.9"/>
<use href="#s" x="233.0" y="64.0"/>
<use href="#s" x="233.5" y="68.9"/>
<use href="#s" x="234.0" y="63.9"/>
<use href="#s" x="234.5" y="71.8"/>
<use href="#s" x="235.0" y="68.0"/>
<use href="#s" x="235.5" y="70.2"/>
<use href="#s" x="236.0" y="66.1"/>
<use href="#s" x="236.5" y="63.8"/>
<use href="#s" x="237.0" y="66.0"/>
<use href="#s" x="237.5" y="61.6"/>
<use href="#s" x="238.0" y="72.2"/>
<use href="#s" x="238.5" y="63.9"/>
<use href="#s" x="239.0" y="70.0"/>
<use href="#s" x="239.5" y="74.5"/>
<use href="#s" x="240.0" y="77.1"/>
<use href="#s" x="240.5" y="73.8"/>
<use href="#s" x="241.0" y="74.0"/>
<use href="#s" x="241.5" y="71.9"/>
<use href="#s" x="242.0" y="77.0"/>
<use href="#s" x="243.0" y="92.0"/>
<use href="#s" x="243.5" y="97.0"/>
<use href="#s" x="244.0" y="99.2"/>
<use href="#s" x="244.5" y="97.2"/>
<use href="#s" x="245.0" y="96.0"/>
<use href="#s" x="245.5" y="95.6"/>
<use href="#s" x="246.0" y="93.7"/>
<use href="#s" x="246.5" y="92.8"/>
<use href="#s" x="247.0" y="94.0"/>
<use href="#s" x="247.5" y="84.8"/>
<use href="#s" x="248.0" y="82.0"/>
<use href="#s" x="248.5" y="77.9"/>
<use href="#s" x="249.0" y="70.0"/>
<use href="#s" x="249.5" y="66.3"/>
<use href="#s" x="250.0" y="64.0"/>
<use href="#s" x="250.5" y="59.1"/>
<use href="#s" x="251.0" y="56.6"/>
<use href="#s" x="251.5" y="61.3"/>
<use href="#s" x="252.0" y="58.0"/>
<use href="#s" x="252.5" y="55.8"/>
<use href="#s" x="253.0" y="58.0"/>
<use href="#s" x="253.5" y="54.0"/>
<use href="#s" x="254.0" y="50.0"/>
<use href="#s" x="254.5" y="45.1"/>
<use href="#s" x="255.0" y="44.0"/>
<use href="#s" x="255.5" y="47.1"/>
<use href="#s" x="256.0" y="42.0"/>
<use href="#s" x="256.5" y="48.4"/>
<use href="#s" x="257.0" y="46.0"/>
<use href="#s" x="257.5" y="45.2"/>
<use href="#s" x="258.0" y="55.0"/>
<use href="#s" x="258.5" y="52.5"/>
<use href="#s" x="259.0" y="54.6"/>
<use href="#s" x="259.5" y="62.6"/>
<use href="#s" x="260.0" y="58.0"/>
<use href="#s" x="260.5" y="60.1"/>
<use href="#s" x="261.0" y="56.0"/>
<use href="#s" x="262.0" y="108.0"/>
<use href="#s" x="262.5" y="106.7"/>
<use href="#s" x="263.0" y="105.8"/>
<use href="#s" x="263.5" y="111.4"/>
<use href="#s" x="264.0" y="110.0"/>
<use href="#s" x="264.5" y="112.2"/>
<use href="#s" x="265.0" y="107.0"/>
<use href="#s" x="266.0" y="86.0"/>
<use href="#s" x="266.5" y="89.8"/>
<use href="#s" x="267.0" y="82.3"/>
<use href="#s" x="267.5" y="87.2"/>
<use href="#s" x="268.0" y="82.0"/>
<use href="#s" x="268.5" y="82.6"/>
<use href="#s" x="269.0" y="79.0"/>
<use href="#s" x="269.5" y="82.3"/>
<use href="#s" x="270.0" y="86.0"/>
<use href="#s" x="270.5" y="91.8"/>
<use href="#s" x="271.0" y="84.1"/>
<use href="#s" x="271.5" y="90.0"/>
<use href="#s" x="272.0" y="88.0"/>
<use href="#s" x="272.5" y="84.2"/>
<use href="#s" x="273.0" y="85.9"/>
<use href="#s" x="273.5" y="94.8"/>
<use href="#s" x="274.0" y="91.0"/>
<use href="#s" x="275.0" y="134.0"/>
<use href="#s" x="275.5" y="131.8"/>
<use href="#s" x="276.0" y="136.0"/>
<use href="#s" x="276.5" y="138.4"/>
<use href="#s" x="277.0" y="135.0"/>
<use href="#s" x="278.0" y="80.0"/>
<use href="#s" x="278.5" y="80.1"/>
<use href="#s" x="279.0" y="81.8"/>
<use href="#s" x="279.5" y="75.5"/>
<use href="#s" x="280.0" y="76.0"/>
<use href="#s" x="280.5" y="74.7"/>
<use href="#s" x="281.0" y="74.7"/>
<use href="#s" x="281.5" y="81.5"/>
<use href="#s" x="282.0" y="78.0"/>
<use href="#s" x="282.5" y="73.1"/>
<use href="#s" x="283.0" y="66.0"/>
<use href="#s" x="283.5" y="65.5"/>
<use href="#s" x="284.0" y="55.0"/>
<use href="#s" x="284.5" y="49.0"/>
<use href="#s" x="285.0" y="58.6"/>
<use href="#s" x="285.5" y="55.7"/>
<use href="#s" x="286.0" y="65.0"/>
<use href="#s" x="286.5" y="75.1"/>
<use href="#s" x="287.0" y="84.0"/>
<use href="#s" x="287.5" y="83.6"/>
<use href="#s" x="288.0" y="92.0"/>
<use href="#s" x="288.5" y="92.9"/>
<use href="#s" x="289.0" y="104.0"/>
<use href="#s" x="289.5" y="101.3"/>
<use href="#s" x="290.0" y="108.0"/>
<use href="#s" x="290.5" y="110.0"/>
<use href="#s" x="291.0" y="107.2"/>
<use href="#s" x="291.5" y="105.6"/>
<use href="#s" x="292.0" y="100.0"/>
<use href="#s" x="292.5" y="97.5"/>
<use href="#s" x="293.0" y="99.8"/>
<use href="#s" x="293.5" y="100.9"/>
<use href="#s" x="294.0" y="97.0"/>
<use href="#s" x="294.5" y="94.4"/>
<use href="#s" x="295.0" y="95.3"/>
<use href="#s" x="295.5" y="90.2"/>
<use href="#s" x="296.0" y="92.0"/>
<use href="#s" x="296.5" y="86.4"/>
<use href="#s" x="297.0" y="87.4"/>
<use href="#s" x="297.5" y="93.3"/>
<use href="#s" x="298.0" y="88.0"/>
<use href="#s" x="298.5" y="89.2"/>
<use href="#s" x="299.0" y="93.7"/>
<use href="#s" x="299.5" y="89.0"/>
<use href="#s" x="300.0" y="90.0"/>
<use href="#s" x="300.5" y="85.5"/>
<use href="#s" x="301.0" y="87.6"/>
<use href="#s" x="301.5" y="85.4"/>
<use href="#s" x="302.0" y="80.0"/>
<use href="#s" x="302.5" y="75.1"/>
<use href="#s" x="303.0" y="79.0"/>
<use href="#s" x="303.5" y="89.0"/>
<use href="#s" x="304.0" y="96.0"/>
<use href="#s" x="304.5" y="93.3"/>
<use href="#s" x="305.0" y="94.5"/>
<use href="#s" x="305.5" y="102.5"/>
<use href="#s" x="306.0" y="100.0"/>
<use href="#s" x="306.5" y="97.9"/>
<use href="#s" x="307.0" y="104.0"/>
<use href="#s" x="307.5" y="130.0"/>
<use href="#s" x="308.0" y="128.7"/>
<use href="#s" x="308.5" y="136.4"/>
<use href="#s" x="309.0" y="133.0"/>
<use href="#s" x="309.5" y="133.0"/>
<use href="#s" x="310.0" y="131.0"/>
<use href="#s" x="310.5" y="132.3"/>
<use href="#s" x="311.0" y="136.0"/>
<use href="#s" x="311.5" y="134.7"/>
<use href="#s" x="312.0" y="140.2"/>
<use href="#s" x="312.5" y="135.4"/>
<use href="#s" x="313.0" y="140.0"/>
<use href="#s" x="313.5" y="144.2"/>
<use href="#s" x="314.0" y="139.9"/>
<use href="#s" x="314.5" y="145.7"/>
<use href="#s" x="315.0" y="142.0"/>
<use href="#s" x="315.5" y="146.2"/>
<use href="#s" x="316.0" y="141.1"/>
<use href="#s" x="316.5" y="141.3"/>
<use href="#s" x="317.0" y="144.0"/>
<use href="#s" x="317.5" y="144.3"/>
<use href="#s" x="318.0" y="141.4"/>
<use href="#s" x="318.5" y="146.9"/>
<use href="#s" x="319.0" y="146.0"/>
<use href="#s" x="319.5" y="142.1"/>
<use href="#s" x="320.0" y="142.1"/>
<use href="#s" x="320.5" y="151.1"/>
<use href="#s" x="321.0" y="147.0"/>
<use href="#s" x="321.5" y="144.9"/>
<use href="#s" x="322.0" y="147.4"/>
<use href="#s" x="322.5" y="145.8"/>
<use href="#s" x="323.0" y="146.0"/>
<use href="#s" x="323.5" y="143.6"/>
<use href="#s" x="324.0" y="140.6"/>
<use href="#s" x="324.5" y="147.5"/>
<use href="#s" x="325.0" y="143.0"/>
<use href="#s" x="325.5" y="146.2"/>
<use href="#s" x="326.0" y="145.2"/>
<use href="#s" x="326.5" y="136.5"/>
<use href="#s" x="327.0" y="139.0"/>
<use href="#s" x="327.5" y="135.4"/>
<use href="#s" x="328.0" y="138.1"/>
<use href="#s" x="328.5" y="140.3"/>
<use href="#s" x="329.0" y="135.0"/>
<use href="#s" x="329.5" y="134.9"/>
<use href="#s" x="330.0" y="135.7"/>
<use href="#s" x="330.5" y="135.0"/>
<use href="#s" x="331.0" y="133.0"/>
<use href="#s" x="331.5" y="131.8"/>
<use href="#s" x="332.0" y="135.4"/>
<use href="#s" x="332.5" y="134.3"/>
<use href="#s" x="333.0" y="137.0"/>
<use href="#s" x="333.5" y="135.5"/>
<use href="#s" x="334.0" y="134.7"/>
<use href="#s" x="334.5" y="137.3"/>
<use href="#s" x="335.0" y="140.0"/>
<use href="#s" x="335.5" y="143.9"/>
<use href="#s" x="336.0" y="138.5"/>
<use href="#s" x="336.5" y="139.9"/>
<use href="#s" x="337.0" y="138.0"/>
<use href="#s" x="337.5" y="138.8"/>
<use href="#s" x="338.0" y="141.0"/>
<use href="#s" x="338.5" y="135.5"/>
<use href="#s" x="339.0" y="136.0"/>
<use href="#s" x="339.5" y="135.3"/>
<use href="#s" x="340.0" y="136.4"/>
<use href="#s" x="340.5" y="137.4"/>
<use href="#s" x="341.0" y="140.0"/>
<use href="#s" x="341.5" y="144.6"/>
<use href="#s" x="342.0" y="146.5"/>
<use href="#s" x="342.5" y="142.7"/>
<use href="#s" x="343.0" y="146.0"/>
<use href="#s" x="343.5" y="145.3"/>
<use href="#s" x="344.0" y="147.9"/>
<use href="#s" x="344.5" y="149.0"/>
<use href="#s" x="345.0" y="149.0"/>
<use href="#s" x="345.5" y="150.1"/>
<use href="#s" x="346.0" y="147.2"/>
<use href="#s" x="346.5" y="145.4"/>
<use href="#s" x="347.0" y="150.0"/>
<use href="#s" x="347.5" y="146.9"/>
<use href="#s" x="348.0" y="144.7"/>
<use href="#s" x="348.5" y="148.2"/>
<use href="#s" x="349.0" y="147.0"/>
<use href="#s" x="349.5" y="141.9"/>
<use href="#s" x="350.0" y="140.7"/>
<use href="#s" x="350.5" y="144.5"/>
<use href="#s" x="351.0" y="142.0"/>
<use href="#s" x="351.5" y="139.1"/>
<use href="#s" x="352.0" y="142.6"/>
<use href="#s" x="352.5" y="138.9"/>
<use href="#s" x="353.0" y="138.0"/>
<use href="#s" x="353.5" y="140.8"/>
<use href="#s" x="354.0" y="133.9"/>
<use href="#s" x="354.5" y="136.5"/>
<use href="#s" x="355.0" y="136.0"/>
<use href="#s" x="355.5" y="139.4"/>
<use href="#s" x="356.0" y="133.7"/>
<use href="#s" x="356.5" y="142.3"/>
<use href="#s" x="357.0" y="139.0"/>
<use href="#s" x="357.5" y="136.6"/>
<use href="#s" x="358.0" y="142.5"/>
<use href="#s" x="358.5" y="144.9"/>
<use href="#s" x="359.0" y="141.0"/>
<use href="#s" x="359.5" y="143.1"/>
<use href="#s" x="360.0" y="137.9"/>
<use href="#s" x="360.5" y="135.2"/>
<use href="#s" x="361.0" y="138.0"/>
<use href="#s" x="361.5" y="137.1"/>
<use href="#s" x="362.0" y="136.0"/>
<use href="#s" x="362.5" y="142.8"/>
<use href="#s" x="363.0" y="142.0"/>
<use href="#s" x="363.5" y="145.1"/>
<use href="#s" x="364.0" y="152.0"/>
<use href="#s" x="364.5" y="159.5"/>
<use href="#s" x="365.0" y="160.0"/>
<use href="#s" x="365.5" y="155.8"/>
<use href="#s" x="366.0" y="158.0"/>
<use href="#s" x="366.5" y="160.2"/>
<use href="#s" x="367.0" y="150.8"/>
<use href="#s" x="367.5" y="151.8"/>
<use href="#s" x="368.0" y="152.0"/>
<use href="#s" x="368.5" y="155.1"/>
<use href="#s" x="369.0" y="153.7"/>
<use href="#s" x="369.5" y="154.2"/>
<use href="#s" x="370.0" y="150.0"/>
<use href="#s" x="370.5" y="152.3"/>
<use href="#s" x="371.0" y="150.7"/>
<use href="#s" x="371.5" y="149.5"/>
<use href="#s" x="372.0" y="147.0"/>
<use href="#s" x="372.5" y="143.6"/>
<use href="#s" x="373.0" y="145.4"/>
<use href="#s" x="373.5" y="142.4"/>
<use href="#s" x="374.0" y="145.0"/>
<use href="#s" x="374.5" y="147.4"/>
<use href="#s" x="375.0" y="147.5"/>
<use href="#s" x="375.5" y="144.3"/>
<use href="#s" x="376.0" y="147.0"/>
<use href="#s" x="376.5" y="142.6"/>
<use href="#s" x="377.0" y="150.2"/>
<use href="#s" x="377.5" y="148.3"/>
<use href="#s" x="378.0" y="145.0"/>
<use href="#s" x="378.5" y="145.2"/>
<use href="#s" x="379.0" y="144.9"/>
<use href="#s" x="379.5" y="147.4"/>
<use href="#s" x="380.0" y="144.0"/>
<use href="#s" x="380.5" y="143.8"/>
<use href="#s" x="381.0" y="143.6"/>
<use href="#s" x="381.5" y="143.3"/>
<use href="#s" x="382.0" y="145.0"/>
<use href="#s" x="382.5" y="143.1"/>
<use href="#s" x="383.0" y="141.2"/>
<use href="#s" x="383.5" y="147.1"/>
<use href="#s" x="384.0" y="146.0"/>
<use href="#s" x="384.5" y="145.0"/>
<use href="#s" x="385.0" y="146.1"/>
<use href="#s" x="385.5" y="141.3"/>
<use href="#s" x="386.0" y="145.0"/>
<use href="#s" x="386.5" y="141.9"/>
<use href="#s" x="387.0" y="138.2"/>
<use href="#s" x="387.5" y="136.4"/>
<use href="#s" x="388.0" y="138.0"/>
<use href="#s" x="388.5" y="133.3"/>
<use href="#s" x="389.0" y="136.0"/>
<use href="#s" x="389.5" y="129.6"/>
<use href="#s" x="390.0" y="128.0"/>
<use href="#s" x="390.5" y="125.6"/>
<use href="#s" x="391.0" y="126.0"/>
<use href="#s" x="391.5" y="121.1"/>
<use href="#s" x="392.0" y="122.0"/>
<use href="#s" x="392.5" y="117.8"/>
<use href="#s" x="393.0" y="122.8"/>
<use href="#s" x="393.5" y="122.8"/>
<use href="#s" x="394.0" y="123.0"/>
<use href="#s" x="394.5" y="126.1"/>
<use href="#s" x="395.0" y="125.9"/>
<use href="#s" x="395.5" y="129.9"/>
<use href="#s" x="396.0" y="130.0"/>
<use href="#s" x="396.5" y="133.6"/>
<use href="#s" x="397.0" y="130.6"/>
<use href="#s" x="397.5" y="134.5"/>
<use href="#s" x="398.0" y="136.0"/>
<use href="#s" x="398.5" y="135.8"/>
<use href="#s" x="399.0" y="133.5"/>
<use href="#s" x="399.5" y="135.2"/>
<use href="#s" x="400.0" y="136.0"/>
<use href="#s" x="400.5" y="135.5"/>
<use href="#s" x="401.0" y="137.7"/>
<use href="#s" x="401.5" y="136.8"/>
<use href="#s" x="402.0" y="132.0"/>
<use href="#s" x="402.5" y="128.7"/>
<use href="#s" x="403.0" y="130.8"/>
<use href="#s" x="403.5" y="124.2"/>
<use href="#s" x="404.0" y="127.0"/>
<use href="#s" x="404.5" y="122.4"/>
<use href="#s" x="405.0" y="125.6"/>
<use href="#s" x="405.5" y="128.1"/>
<use href="#s" x="406.0" y="124.0"/>
<use href="#s" x="406.5" y="121.2"/>
<use href="#s" x="407.0" y="126.9"/>
<use href="#s" x="407.5" y="128.2"/>
<use href="#s" x="408.0" y="125.0"/>
<use href="#s" x="408.5" y="123.6"/>
<use href="#s" x="409.0" y="127.2"/>
<use href="#s" x="409.5" y="128.9"/>
<use href="#s" x="410.0" y="126.0"/>
<use href="#s" x="410.5" y="122.8"/>
<use href="#s" x="411.0" y="123.8"/>
<use href="#s" x="411.5" y="122.1"/>
<use href="#s" x="412.0" y="118.0"/>
<use href="#s" x="412.5" y="117.6"/>
<use href="#s" x="413.0" y="118.7"/>
<use href="#s" x="413.5" y="117.8"/>
<use href="#s" x="414.0" y="113.0"/>
<use href="#s" x="414.5" y="116.9"/>
<use href="#s" x="415.0" y="113.1"/>
<use href="#s" x="415.5" y="109.3"/>
<use href="#s" x="416.0" y="112.0"/>
<use href="#s" x="416.5" y="110.8"/>
<use href="#s" x="417.0" y="111.5"/>
<use href="#s" x="417.5" y="115.6"/>
<use href="#s" x="418.0" y="116.0"/>
<use href="#s" x="418.5" y="119.6"/>
<use href="#s" x="419.0" y="114.5"/>
<use href="#s" x="419.5" y="121.4"/>
<use href="#s" x="420.0" y="121.0"/>
<use href="#s" x="420.5" y="123.7"/>
<use href="#s" x="421.0" y="121.1"/>
<use href="#s" x="421.5" y="123.4"/>
<use href="#s" x="422.0" y="124.0"/>
<use href="#s" x="422.5" y="121.5"/>
<use href="#s" x="423.0" y="127.1"/>
<use href="#s" x="423.5" y="121.4"/>
<use href="#s" x="424.0" y="126.0"/>
<use href="#s" x="424.5" y="130.8"/>
<use href="#s" x="425.0" y="129.8"/>
<use href="#s" x="425.5" y="128.7"/>
<use href="#s" x="426.0" y="128.0"/>
<use href="#s" x="426.5" y="124.4"/>
<use href="#s" x="427.0" y="128.7"/>
<use href="#s" x="427.5" y="127.6"/>
<use href="#s" x="428.0" y="122.0"/>
<use href="#s" x="428.5" y="117.3"/>
<use href="#s" x="429.0" y="121.5"/>
<use href="#s" x="429.5" y="120.6"/>
<use href="#s" x="430.0" y="116.0"/>
<use href="#s" x="430.5" y="118.4"/>
<use href="#s" x="431.0" y="118.0"/>
<use href="#s" x="431.5" y="132.0"/>
<use href="#s" x="432.0" y="148.0"/>
<use href="#s" x="432.5" y="155.8"/>
<use href="#s" x="433.0" y="160.0"/>
<use href="#s" x="433.5" y="160.5"/>
<use href="#s" x="434.0" y="165.8"/>
<use href="#s" x="434.5" y="167.2"/>
<use href="#s" x="435.0" y="164.0"/>
<use href="#s" x="435.5" y="162.4"/>
<use href="#s" x="436.0" y="165.7"/>
<use href="#s" x="436.5" y="161.9"/>
<use href="#s" x="437.0" y="162.0"/>
<use href="#s" x="437.5" y="154.0"/>
<use href="#s" x="438.0" y="152.0"/>
<use href="#s" x="438.5" y="147.4"/>
<use href="#s" x="439.0" y="146.0"/>
<use href="#s" x="439.5" y="139.6"/>
<use href="#s" x="440.0" y="140.0"/>
<use href="#s" x="440.5" y="141.9"/>
<use href="#s" x="441.0" y="140.6"/>
<use href="#s" x="441.5" y="131.3"/>
<use href="#s" x="442.0" y="133.0"/>
<use href="#s" x="442.5" y="132.2"/>
<use href="#s" x="443.0" y="128.7"/>
<use href="#s" x="443.5" y="124.3"/>
<use href="#s" x="444.0" y="126.0"/>
<use href="#s" x="444.5" y="123.2"/>
<use href="#s" x="445.0" y="121.7"/>
<use href="#s" x="445.5" y="123.0"/>
<use href="#s" x="446.0" y="126.9"/>
<use href="#s" x="446.5" y="121.9"/>
<use href="#s" x="447.0" y="128.0"/>
<use href="#s" x="447.5" y="127.0"/>
<use href="#s" x="448.0" y="130.9"/>
<use href="#s" x="448.5" y="128.9"/>
<use href="#s" x="449.0" y="135.0"/>
<use href="#s" x="449.5" y="137.1"/>
<use href="#s" x="450.0" y="138.0"/>
<use href="#s" x="450.5" y="138.0"/>
<use href="#s" x="451.0" y="139.7"/>
<use href="#s" x="451.5" y="132.7"/>
<use href="#s" x="452.0" y="134.0"/>
<use href="#s" x="452.5" y="130.8"/>
<use href="#s" x="453.0" y="131.9"/>
<use href="#s" x="453.5" y="128.2"/>
<use href="#s" x="454.0" y="129.0"/>
<use href="#s" x="454.5" y="130.8"/>
<use href="#s" x="455.0" y="128.8"/>
<use href="#s" x="455.5" y="133.7"/>
<use href="#s" x="456.0" y="133.0"/>
<use href="#s" x="456.5" y="137.1"/>
<use href="#s" x="457.0" y="138.8"/>
<use href="#s" x="457.5" y="141.8"/>
<use href="#s" x="458.0" y="139.0"/>
<use href="#s" x="458.5" y="138.4"/>
<use href="#s" x="459.0" y="136.9"/>
<use href="#s" x="459.5" y="139.2"/>
<use href="#s" x="460.0" y="135.0"/>
<use href="#s" x="460.5" y="135.7"/>
<use href="#s" x="461.0" y="132.1"/>
<use href="#s" x="461.5" y="128.7"/>
<use href="#s" x="462.0" y="128.0"/>
<use href="#s" x="462.5" y="125.1"/>
<use href="#s" x="463.0" y="122.5"/>
<use href="#s" x="463.5" y="127.8"/>
<use href="#s" x="464.0" y="124.0"/>
<use href="#s" x="464.5" y="119.8"/>
<use href="#s" x="465.0" y="124.7"/>
<use href="#s" x="465.5" y="122.2"/>
<use href="#s" x="466.0" y="121.0"/>
<use href="#s" x="466.5" y="124.9"/>
<use href="#s" x="467.0" y="122.8"/>
<use href="#s" x="467.5" y="124.5"/>
<use href="#s" x="468.0" y="120.0"/>
<use href="#s" x="468.5" y="116.2"/>
<use href="#s" x="469.0" y="119.0"/>
<use href="#s" x="469.5" y="119.2"/>
<use href="#s" x="470.0" y="118.0"/>
<use href="#s" x="470.5" y="115.3"/>
<use href="#s" x="471.0" y="116.0"/>
<use href="#s" x="471.5" y="113.7"/>
<use href="#s" x="472.0" y="114.0"/>
<use href="#s" x="472.5" y="113.0"/>
<use href="#s" x="473.0" y="107.0"/>
<use href="#s" x="473.5" y="109.7"/>
<use href="#s" x="474.0" y="109.0"/>
<use href="#s" x="474.5" y="107.9"/>
<use href="#s" x="475.0" y="105.9"/>
<use href="#s" x="475.5" y="107.0"/>
<use href="#s" x="476.0" y="106.8"/>
<use href="#s" x="476.5" y="110.9"/>
<use href="#s" x="477.0" y="109.0"/>
<use href="#s" x="477.5" y="112.2"/>
<use href="#s" x="478.0" y="111.9"/>
<use href="#s" x="478.5" y="114.8"/>
<use href="#s" x="479.0" y="115.0"/>
<use href="#s" x="479.5" y="115.1"/>
<use href="#s" x="480.0" y="114.8"/>
<use href="#s" x="480.5" y="114.3"/>
<use href="#s" x="481.0" y="120.0"/>
<use href="#s" x="481.5" y="118.5"/>
<use href="#s" x="482.0" y="121.9"/>
<use href="#s" x="482.5" y="124.9"/>
<use href="#s" x="483.0" y="122.0"/>
<use href="#s" x="483.5" y="125.5"/>
<use href="#s" x="484.0" y="123.1"/>
<use href="#s" x="484.5" y="127.9"/>
<use href="#s" x="485.0" y="124.0"/>
<use href="#s" x="485.5" y="124.2"/>
<use href="#s" x="486.0" y="128.0"/>
<use href="#s" x="486.5" y="124.7"/>
<use href="#s" x="487.0" y="126.0"/>
<use href="#s" x="487.5" y="129.2"/>
<use href="#s" x="488.0" y="132.4"/>
<use href="#s" x="488.5" y="127.2"/>
<use href="#s" x="489.0" y="130.0"/>
<use href="#s" x="489.5" y="126.5"/>
<use href="#s" x="490.0" y="130.1"/>
<use href="#s" x="490.5" y="128.8"/>
<use href="#s" x="491.0" y="128.0"/>
<use href="#s" x="491.5" y="124.5"/>
<use href="#s" x="492.0" y="119.0"/>
<use href="#s" x="492.5" y="120.3"/>
<use href="#s" x="493.0" y="119.0"/>
<use href="#s" x="493.5" y="117.3"/>
<use href="#s" x="494.0" y="116.1"/>
<use href="#s" x="494.5" y="119.3"/>
<use href="#s" x="495.0" y="115.0"/>
<use href="#s" x="495.5" y="116.1"/>
<use href="#s" x="496.0" y="117.8"/>
<use href="#s" x="496.5" y="116.0"/>
<use href="#s" x="497.0" y="130.0"/>
<use href="#s" x="497.5" y="135.9"/>
<use href="#s" x="498.0" y="136.9"/>
<use href="#s" x="498.5" y="137.0"/>
<use href="#s" x="499.0" y="136.3"/>
<use href="#s" x="499.5" y="137.9"/>
<use href="#s" x="500.0" y="135.0"/>
<use href="#s" x="500.5" y="134.5"/>
<use href="#s" x="501.0" y="132.8"/>
<use href="#s" x="501.5" y="130.9"/>
<use href="#s" x="502.0" y="128.0"/>
<use href="#s" x="502.5" y="126.7"/>
<use href="#s" x="503.0" y="128.2"/>
<use href="#s" x="503.5" y="127.7"/>
<use href="#s" x="504.0" y="126.0"/>
<use href="#s" x="504.5" y="130.4"/>
<use href="#s" x="505.0" y="129.5"/>
<use href="#s" x="505.5" y="130.6"/>
<use href="#s" x="506.0" y="128.0"/>
<use href="#s" x="506.5" y="131.9"/>
<use href="#s" x="507.0" y="133.8"/>
<use href="#s" x="507.5" y="133.4"/>
<use href="#s" x="508.0" y="134.0"/>
<use href="#s" x="508.5" y="133.6"/>
<use href="#s" x="509.0" y="133.9"/>
<use href="#s" x="509.5" y="137.0"/>
<use href="#s" x="510.0" y="137.2"/>
<use href="#s" x="510.5" y="137.0"/>
<use href="#s" x="511.0" y="132.0"/>
<use href="#s" x="511.5" y="130.4"/>
<use href="#s" x="512.0" y="124.9"/>
<use href="#s" x="512.5" y="129.0"/>
<use href="#s" x="513.0" y="124.0"/>
<use href="#s" x="513.5" y="122.6"/>
<use href="#s" x="514.0" y="121.2"/>
<use href="#s" x="514.5" y="116.2"/>
<use href="#s" x="515.0" y="119.0"/>
<use href="#s" x="515.5" y="118.4"/>
<use href="#s" x="516.0" y="119.9"/>
<use href="#s" x="516.5" y="117.0"/>
<use href="#s" x="517.0" y="117.3"/>
<use href="#s" x="517.5" y="117.7"/>
<use href="#s" x="518.0" y="120.0"/>
<use href="#s" x="518.5" y="124.4"/>
<use href="#s" x="519.0" y="121.7"/>
<use href="#s" x="519.5" y="129.1"/>
<use href="#s" x="520.0" y="132.0"/>
<use href="#s" x="520.5" y="135.5"/>
<use href="#s" x="521.0" y="132.7"/>
<use href="#s" x="521.5" y="129.6"/>
<use href="#s" x="522.0" y="130.0"/>
<use href="#s" x="522.5" y="130.7"/>
<use href="#s" x="523.0" y="128.9"/>
<use href="#s" x="523.5" y="127.0"/>
<use href="#s" x="524.0" y="126.4"/>
<use href="#s" x="524.5" y="128.4"/>
<use href="#s" x="525.0" y="133.0"/>
<use href="#s" x="525.5" y="137.7"/>
<use href="#s" x="526.0" y="133.4"/>
<use href="#s" x="526.5" y="132.9"/>
<use href="#s" x="527.0" y="138.0"/>
<use href="#s" x="527.5" y="141.6"/>
<use href="#s" x="528.0" y="139.5"/>
<use href="#s" x="528.5" y="140.0"/>
<use href="#s" x="529.0" y="136.1"/>
<use href="#s" x="529.5" y="134.8"/>
<use href="#s" x="530.0" y="132.0"/>
<use href="#s" x="530.5" y="131.6"/>
<use href="#s" x="531.0" y="124.0"/>
<use href="#s" x="531.5" y="125.9"/>
<use href="#s" x="532.0" y="122.0"/>
<use href="#s" x="532.5" y="123.2"/>
<use href="#s" x="533.0" y="123.3"/>
<use href="#s" x="533.5" y="117.7"/>
<use href="#s" x="534.0" y="119.0"/>
<use href="#s" x="534.5" y="118.2"/>
<use href="#s" x="535.0" y="113.1"/>
<use href="#s" x="535.5" y="114.3"/>
<use href="#s" x="536.0" y="112.0"/>
<use href="#s" x="536.5" y="107.1"/>
<use href="#s" x="537.0" y="108.0"/>
<use href="#s" x="537.5" y="112.6"/>
<use href="#s" x="538.0" y="112.0"/>
<use href="#s" x="538.5" y="120.3"/>
<use href="#s" x="539.0" y="122.0"/>
<use href="#s" x="539.5" y="123.5"/>
<use href="#s" x="540.0" y="128.0"/>
<use href="#s" x="541.0" y="144.0"/>
<use href="#s" x="541.5" y="142.8"/>
<use href="#s" x="542.0" y="150.7"/>
<use href="#s" x="542.5" y="149.6"/>
<use href="#s" x="543.0" y="149.0"/>
<use href="#s" x="543.5" y="149.8"/>
<use href="#s" x="544.0" y="140.3"/>
<use href="#s" x="544.5" y="145.8"/>
<use href="#s" x="545.0" y="140.0"/>
<use href="#s" x="545.5" y="137.1"/>
<use href="#s" x="546.0" y="132.0"/>
<use href="#s" x="546.5" y="128.8"/>
<use href="#s" x="547.0" y="128.4"/>
<use href="#s" x="547.5" y="129.9"/>
<use href="#s" x="548.0" y="126.0"/>
<use href="#s" x="548.5" y="126.1"/>
<use href="#s" x="549.0" y="118.2"/>
<use href="#s" x="549.5" y="119.6"/>
<use href="#s" x="550.0" y="116.0"/>
<use href="#s" x="550.5" y="111.7"/>
<use href="#s" x="551.0" y="117.8"/>
<use href="#s" x="551.5" y="111.7"/>
<use href="#s" x="552.0" y="111.0"/>
<use href="#s" x="552.5" y="116.0"/>
<use href="#s" x="553.0" y="115.6"/>
<use href="#s" x="553.5" y="115.7"/>
<use href="#s" x="554.0" y="116.0"/>
<use href="#s" x="554.5" y="116.4"/>
<use href="#s" x="555.0" y="121.2"/>
<use href="#s" x="555.5" y="120.2"/>
<use href="#s" x="556.0" y="126.0"/>
<use href="#s" x="556.5" y="125.0"/>
<use href="#s" x="557.0" y="132.4"/>
<use href="#s" x="557.5" y="131.5"/>
<use href="#s" x="558.0" y="135.0"/>
<use href="#s" x="558.5" y="138.0"/>
<use href="#s" x="559.0" y="134.2"/>
<use href="#s" x="559.5" y="139.2"/>
<use href="#s" x="560.0" y="138.0"/>
<use href="#s" x="560.5" y="139.2"/>
<use href="#s" x="561.0" y="134.7"/>
<use href="#s" x="561.5" y="132.2"/>
<use href="#s" x="562.0" y="135.0"/>
<use href="#s" x="562.5" y="131.3"/>
<use href="#s" x="563.0" y="129.4"/>
<use href="#s" x="563.5" y="123.1"/>
<use href="#s" x="564.0" y="124.0"/>
<use href="#s" x="564.5" y="120.2"/>
<use href="#s" x="565.0" y="118.0"/>
<use href="#s" x="565.5" y="121.9"/>
<use href="#s" x="566.0" y="120.0"/>
<use href="#s" x="566.5" y="122.0"/>
<use href="#s" x="567.0" y="114.4"/>
<use href="#s" x="567.5" y="111.3"/>
<use href="#s" x="568.0" y="114.0"/>
<use href="#s" x="568.5" y="114.8"/>
<use href="#s" x="569.0" y="114.8"/>
<use href="#s" x="569.5" y="115.2"/>
<use href="#s" x="570.0" y="110.0"/>
<use href="#s" x="570.5" y="110.8"/>
<use href="#s" x="571.0" y="108.1"/>
<use href="#s" x="571.5" y="112.3"/>
<use href="#s" x="572.0" y="109.0"/>
<use href="#s" x="572.5" y="110.1"/>
<use href="#s" x="573.0" y="118.0"/>
<use href="#s" x="573.5" y="123.2"/>
<use href="#s" x="574.0" y="121.4"/>
<use href="#s" x="574.5" y="127.6"/>
<use href="#s" x="575.0" y="132.0"/>
<use href="#s" x="575.5" y="130.5"/>
<use href="#s" x="576.0" y="127.9"/>
<use href="#s" x="576.5" y="124.5"/>
<use href="#s" x="577.0" y="126.0"/>
<use href="#s" x="577.5" y="122.1"/>
<use href="#s" x="578.0" y="125.9"/>
<use href="#s" x="578.5" y="121.2"/>
<use href="#s" x="579.0" y="120.0"/>
<use href="#s" x="579.5" y="120.0"/>
<use href="#s" x="580.0" y="115.9"/>
<use href="#s" x="580.5" y="119.7"/>
<use href="#s" x="581.0" y="117.0"/>
<use href="#s" x="581.5" y="114.7"/>
<use href="#s" x="582.0" y="116.3"/>
<use href="#s" x="582.5" y="118.4"/>
<use href="#s" x="583.0" y="114.0"/>
<use href="#s" x="583.5" y="116.7"/>
<use href="#s" x="584.0" y="106.4"/>
<use href="#s" x="584.5" y="111.4"/>
<use href="#s" x="585.0" y="107.0"/>
<use href="#s" x="585.5" y="105.7"/>
<use href="#s" x="586.0" y="98.0"/>
<use href="#s" x="586.5" y="96.9"/>
<use href="#s" x="587.0" y="97.9"/>
<use href="#s" x="587.5" y="100.2"/>
<use href="#s" x="588.0" y="100.0"/>
<use href="#s" x="588.5" y="102.8"/>
<use href="#s" x="589.0" y="97.1"/>
<use href="#s" x="589.5" y="100.4"/>
<use href="#s" x="590.0" y="96.0"/>
<use href="#s" x="590.5" y="97.1"/>
<use href="#s" x="591.0" y="90.4"/>
<use href="#s" x="591.5" y="96.0"/>
<use href="#s" x="592.0" y="91.0"/>
<use href="#s" x="592.5" y="87.4"/>
<use href="#s" x="593.0" y="89.3"/>
<use href="#s" x="593.5" y="94.7"/>
<use href="#s" x="594.0" y="94.0"/>
<use href="#s" x="594.5" y="93.0"/>
<use href="#s" x="595.0" y="100.0"/>
<use href="#s" x="595.5" y="101.9"/>
<use href="#s" x="596.0" y="106.0"/>
<use href="#s" x="597.0" y="120.0"/>
<use href="#s" x="597.5" y="118.7"/>
<use href="#s" x="598.0" y="124.0"/>
<use href="#s" x="598.5" y="123.9"/>
<use href="#s" x="599.0" y="127.6"/>
<use href="#s" x="599.5" y="128.4"/>
<use href="#s" x="600.0" y="125.0"/>
<use href="#s" x="600.5" y="120.6"/>
<use href="#s" x="601.0" y="120.5"/>
<use href="#s" x="601.5" y="127.3"/>
<use href="#s" x="602.0" y="124.0"/>
<use href="#s" x="602.5" y="117.9"/>
<use href="#s" x="603.0" y="118.0"/>
<use href="#s" x="603.5" y="114.6"/>
<use href="#s" x="604.0" y="116.0"/>
<use href="#s" x="604.5" y="111.3"/>
<use href="#s" x="605.0" y="109.7"/>
<use href="#s" x="605.5" y="113.0"/>
<use href="#s" x="606.0" y="115.6"/>
<use href="#s" x="606.5" y="117.9"/>
<use href="#s" x="607.0" y="117.0"/>
<use href="#s" x="607.5" y="121.4"/>
<use href="#s" x="608.0" y="125.6"/>
<use href="#s" x="608.5" y="126.7"/>
<use href="#s" x="609.0" y="128.0"/>
<use href="#s" x="609.5" y="129.0"/>
<use href="#s" x="610.0" y="132.0"/>
<use href="#s" x="610.5" y="132.2"/>
<use href="#s" x="611.0" y="130.0"/>
<use href="#s" x="611.5" y="132.2"/>
<use href="#s" x="612.0" y="127.3"/>
<use href="#s" x="612.5" y="121.7"/>
<use href="#s" x="613.0" y="122.0"/>
<use href="#s" x="613.5" y="117.5"/>
<use href="#s" x="614.0" y="124.9"/>
<use href="#s" x="614.5" y="121.3"/>
<use href="#s" x="615.0" y="120.0"/>
<use href="#s" x="615.5" y="119.1"/>
<use href="#s" x="616.0" y="121.9"/>
<use href="#s" x="616.5" y="122.0"/>
<use href="#s" x="617.0" y="122.0"/>
<use href="#s" x="617.5" y="123.7"/>
<use href="#s" x="618.0" y="121.0"/>
<use href="#s" x="618.5" y="125.2"/>
<use href="#s" x="619.0" y="128.0"/>
<use href="#s" x="619.5" y="128.7"/>
<use href="#s" x="620.0" y="128.3"/>
<use href="#s" x="620.5" y="135.9"/>
<use href="#s" x="621.0" y="134.0"/>
<use href="#s" x="621.5" y="134.3"/>
<use href="#s" x="622.0" y="137.5"/>
<use href="#s" x="622.5" y="137.0"/>
<use href="#s" x="623.0" y="137.9"/>
<use href="#s" x="623.5" y="137.2"/>
<use href="#s" x="624.0" y="134.0"/>
<use href="#s" x="624.5" y="134.2"/>
<use href="#s" x="625.0" y="132.8"/>
<use href="#s" x="625.5" y="126.5"/>
<use href="#s" x="626.0" y="127.0"/>
<use href="#s" x="626.5" y="130.3"/>
<use href="#s" x="627.0" y="121.9"/>
<use href="#s" x="627.5" y="127.8"/>
<use href="#s" x="628.0" y="123.0"/>
<use href="#s" x="628.5" y="125.9"/>
<use href="#s" x="629.0" y="125.7"/>
<use href="#s" x="629.5" y="118.2"/>
<use href="#s" x="630.0" y="122.0"/>
<use href="#s" x="630.5" y="118.8"/>
<use href="#s" x="631.0" y="125.8"/>
<use href="#s" x="631.5" y="123.2"/>
<use href="#s" x="632.0" y="124.0"/>
<use href="#s" x="632.5" y="122.8"/>
<use href="#s" x="633.0" y="124.0"/>
</g>
<path d="M102.3,103.7 L104.3,107.5 L106.3,111.3 L108.3,115.0 L110.3,118.8 L112.3,122.4 L114.3,126.0 L116.3,129.6 L118.3,133.0 L120.3,136.3 L122.3,139.5 L124.3,142.6 L126.3,145.6 L128.3,148.4 L130.3,151.0 L132.3,153.5 L134.3,155.8 L136.3,158.0 L138.3,160.0 L140.3,161.7 L142.3,163.3 L144.3,164.7 L146.3,165.9 L148.3,166.9 L150.3,167.8 L152.3,168.4 L154.3,168.8 L156.3,169.0 L158.3,169.1 L160.3,168.9 L162.3,168.6 L164.3,168.1 L166.3,167.4 L168.3,166.6 L170.3,165.6 L172.3,164.4 L174.3,163.2 L176.3,161.7 L178.3,160.2 L180.3,158.5 L182.3,156.7 L184.3,154.8 L186.3,152.8 L188.3,150.7 L190.3,148.6 L192.3,146.4 L194.3,144.1 L196.3,141.8 L198.3,139.4 L200.3,137.1 L202.3,134.7 L204.3,132.3 L206.3,129.9 L208.3,127.6 L210.3,125.3 L212.3,123.0 L214.3,120.7 L216.3,118.5 L218.3,116.3 L220.3,114.3 L222.3,112.2 L224.3,110.3 L226.3,108.5 L228.3,106.7 L230.3,105.1 L232.3,103.5 L234.3,102.1 L236.3,100.7 L238.3,99.5 L240.3,98.4 L242.3,97.4 L244.3,96.5 L246.3,95.8 L248.3,95.2 L250.3,94.7 L252.3,94.3 L254.3,94.0 L256.3,93.9 L258.3,93.9 L260.3,94.0 L262.3,94.2 L264.3,94.5 L266.3,94.9 L268.3,95.5 L270.3,96.1 L272.3,96.8 L274.3,97.7 L276.3,98.6 L278.3,99.5 L280.3,100.6 L282.3,101.7 L284.3,102.9 L286.3,104.2 L288.3,105.5 L290.3,106.8 L292.3,108.2 L294.3,109.7 L296.3,111.1 L298.3,112.6 L300.3,114.1 L302.3,115.6 L304.3,117.0 L306.3,118.5 L308.3,120.0 L310.3,121.5 L312.3,122.9 L314.3,124.3 L316.3,125.7 L318.3,127.1 L320.3,128.4 L322.3,129.6 L324.3,130.8 L326.3,132.0 L328.3,133.1 L330.3,134.1 L332.3,135.1 L334.3,136.0 L336.3,136.8 L338.3,137.6 L340.3,138.3 L342.3,138.9 L344.3,139.4 L346.3,139.9 L348.3,140.3 L350.3,140.6 L352.3,140.8 L354.3,141.0 L356.3,141.1 L358.3,141.1 L360.3,141.0 L362.3,140.9 L364.3,140.6 L366.3,140.4 L368.3,140.0 L370.3,139.6 L372.3,139.2 L374.3,138.6 L376.3,138.1 L378.3,137.4 L380.3,136.8 L382.3,136.1 L384.3,135.3 L386.3,134.5 L388.3,133.7 L390.3,132.8 L392.3,132.0 L394.3,131.1 L396.3,130.2 L398.3,129.2 L400.3,128.3 L402.3,127.4 L404.3,126.4 L406.3,125.5 L408.3,124.6 L410.3,123.7 L412.3,122.8 L414.3,121.9 L416.3,121.0 L418.3,120.2 L420.3,119.3 L422.3,118.6 L424.3,117.8 L426.3,117.1 L428.3,116.4 L430.3,115.8 L432.3,115.1 L434.3,114.6 L436.3,114.1 L438.3,113.6 L440.3,113.2 L442.3,112.8 L444.3,112.4 L446.3,112.2 L448.3,111.9 L450.3,111.7 L452.3,111.6 L454.3,111.5 L456.3,111.4 L458.3,111.4 L460.3,111.5 L462.3,111.6 L464.3,111.7 L466.3,111.9 L468.3,112.1 L470.3,112.4 L472.3,112.7 L474.3,113.0 L476.3,113.4 L478.3,113.7 L480.3,114.2 L482.3,114.6 L484.3,115.1 L486.3,115.6 L488.3,116.1 L490.3,116.6 L492.3,117.2 L494.3,117.8 L496.3,118.3 L498.3,118.9 L500.3,119.5 L502.3,120.1 L504.3,120.7 L506.3,121.3 L508.3,121.8 L510.3,122.4 L512.3,123.0 L514.3,123.5 L516.3,124.1 L518.3,124.6 L520.3,125.1 L522.3,125.6 L524.3,126.1 L526.3,126.5 L528.3,127.0 L530.3,127.4 L532.3,127.7 L534.3,128.1 L536.3,128.4 L538.3,128.7 L540.3,129.0 L542.3,129.2 L544.3,129.4 L546.3,129.6 L548.3,129.7 L550.3,129.9 L552.3,129.9 L554.3,130.0 L556.3,130.0 L558.3,130.0 L560.3,130.0 L562.3,129.9 L564.3,129.8 L566.3,129.7 L568.3,129.6 L570.3,129.4 L572.3,129.2 L574.3,129.0 L576.3,128.8 L578.3,128.6 L580.3,128.3 L582.3,128.0 L584.3,127.7 L586.3,127.4 L588.3,127.1 L590.3,126.7 L592.3,126.4 L594.3,126.0 L596.3,125.7 L598.3,125.3 L600.3,125.0 L602.3,124.6 L604.3,124.2 L606.3,123.8 L608.3,123.5 L610.3,123.1 L612.3,122.8 L614.3,122.4 L616.3,122.1 L618.3,121.7 L620.3,121.4 L622.3,121.1 L624.3,120.8 L626.3,120.5 L628.3,120.3 L630.3,120.0 L632.3,119.8" fill="none" stroke="#c61b43" stroke-width="2"/>
<rect x="445.2" y="11.7" width="203.0" height="67.6" rx="4" fill="#fafbfc" fill-opacity="0.85" stroke="#d6d6d6" stroke-width="1"/>
<line x1="452.6" y1="28.4" x2="495.6" y2="28.4" stroke="#ff7f50" stroke-opacity="0.5" stroke-width="1.3"/>
<use href="#s" transform="translate(474.3,28.4) scale(0.8)" fill="#ff7f50" fill-opacity="0.9"/>
<line x1="452.6" y1="59.2" x2="495.6" y2="59.2" stroke="#c61b43" stroke-width="2"/>
</g>
<g clip-path="url(#cb)">
<path d="M101.0,468.0 L101.5,473.8 L102.0,472.2 L102.5,456.4 L103.0,462.0 L103.5,456.4 L104.0,469.4 L104.5,468.8 L105.0,466.0 L105.5,470.2 L106.0,465.9 L106.5,472.2 L107.0,472.0 L107.5,472.7 L108.0,471.3 L108.5,463.5 L109.0,468.0 L109.5,467.4 L110.0,467.3 L110.5,473.1 L111.0,470.0 L111.5,476.7 L112.0,474.7 L112.5,467.0 L113.0,465.0 L113.5,464.4 L114.0,461.8 L114.5,458.3 L115.0,466.0 L115.5,458.9 L116.0,466.4 L116.5,464.6 L117.0,468.0 L117.5,466.6 L118.0,475.3 L118.5,469.9 L119.0,470.0 L119.5,470.0 L120.0,463.8 L120.5,459.4 L121.0,466.0 L121.5,463.7 L122.0,461.2 L122.5,467.7 L123.0,468.0 L123.5,475.2 L124.0,469.3 L124.5,460.7 L125.0,465.0 L125.5,472.0 L126.0,471.2 L126.5,471.0 L127.0,468.0 L127.5,473.0 L128.0,469.2 L128.5,468.1 L129.0,462.0 L129.5,456.0 L130.5,380.0 L131.0,379.9 L131.5,387.5 L132.0,384.0 L132.5,394.1 L133.0,395.0 L133.5,396.1 L134.0,404.0 L134.5,407.5 L135.0,408.2 L135.5,406.6 L136.0,408.0 L136.5,408.8 L137.0,408.9 L137.5,413.7 L138.0,410.0 L138.5,410.5 L139.0,414.3 L139.5,410.0 L140.0,412.0 L140.5,416.8 L141.0,418.0 L141.5,414.6 L142.0,416.0 L142.5,418.7 L143.0,424.2 L143.5,424.2 L144.0,424.0 L144.5,425.4 L145.0,424.2 L145.5,426.7 L146.0,430.0 L146.5,434.0 L147.0,392.0 L147.5,395.5 L148.0,391.7 L148.5,400.6 L149.0,398.0 L149.5,395.2 L150.0,401.1 L150.5,394.6 L151.0,396.0 L151.5,401.6 L152.0,400.1 L152.5,399.0 L153.0,400.0 L153.5,398.2 L154.0,397.5 L154.5,394.9 L155.0,392.0 L155.5,384.1 L156.0,380.0 L156.5,374.6 L157.0,375.1 L157.5,376.8 L158.0,370.0 L158.5,369.7 L159.0,362.8 L159.5,368.7 L160.0,364.0 L160.5,364.8 L161.0,365.1 L161.5,356.4 L162.0,358.0 L162.5,358.4 L163.0,349.6 L163.5,353.5 L164.0,350.0 L164.5,342.7 L165.0,340.0 L165.5,331.3 L166.0,328.0 L166.5,325.8 L167.0,316.0 L167.5,308.1 L168.0,308.0 L168.5,307.2 L169.0,306.0 L169.7,430.0 L170.3,436.0 L171.0,435.0 L171.5,431.9 L172.0,431.1 L172.5,437.3 L173.0,433.0 L174.5,297.0 L175.0,302.0 L175.5,321.0 L176.0,340.0 L176.5,358.0 L177.0,390.0 L177.5,392.2 L178.0,396.0 L178.5,400.2 L179.0,395.3 L179.5,400.6 L180.0,404.0 L180.5,399.7 L181.0,403.7 L181.5,396.8 L182.0,400.0 L183.5,318.0 L184.0,323.5 L184.5,320.0 L185.0,424.0 L185.5,421.9 L186.0,431.6 L186.5,432.0 L187.0,428.5 L187.5,432.2 L188.0,436.0 L188.5,435.1 L189.0,428.0 L190.0,390.0 L190.5,387.6 L191.0,392.0 L192.0,418.0 L192.5,415.8 L193.0,420.0 L194.0,372.0 L194.5,371.9 L195.0,366.9 L195.5,361.4 L196.0,364.0 L196.5,366.9 L197.0,356.5 L197.5,353.4 L198.0,356.0 L198.5,351.9 L199.0,351.0 L199.5,356.7 L200.0,360.0 L200.5,368.4 L201.0,372.0 L201.5,458.0 L202.0,457.1 L202.5,464.0 L203.0,460.4 L203.5,460.0 L204.0,400.0 L204.5,394.8 L205.0,398.5 L205.5,401.2 L206.0,398.0 L206.5,403.4 L207.0,404.0 L207.5,411.0 L208.0,410.0 L208.5,468.0 L209.0,471.2 L209.5,473.0 L210.0,470.0 L211.0,444.0 L211.5,448.1 L212.0,448.0 L212.5,444.7 L213.0,442.0 L213.5,433.3 L214.0,430.0 L214.5,425.6 L215.0,418.0 L215.5,411.2 L216.0,408.0 L216.5,402.5 L217.0,404.5 L217.5,407.2 L218.0,402.0 L218.5,397.3 L219.0,400.0 L219.5,405.8 L220.0,410.0 L220.5,417.9 L221.0,428.0 L221.5,430.1 L222.0,432.0 L222.5,417.4 L223.0,410.0 L223.5,409.6 L224.0,400.0 L224.5,398.6 L225.0,402.0 L226.0,462.0 L226.5,464.1 L227.0,463.2 L227.5,460.2 L228.0,466.0 L228.5,467.1 L229.0,463.4 L229.5,463.1 L230.0,468.0 L230.5,462.3 L231.0,462.0 L231.5,459.9 L232.0,462.0 L232.5,459.7 L233.0,455.1 L233.5,455.9 L234.0,448.0 L234.5,449.9 L235.0,444.0 L235.5,452.5 L236.0,452.0 L236.5,453.1 L237.0,458.5 L237.5,460.3 L238.0,466.0 L238.5,466.8 L239.0,467.1 L239.5,468.7 L240.0,466.0 L240.5,466.9 L241.0,461.8 L241.5,462.3 L242.0,462.0 L242.5,461.2 L243.0,455.5 L243.5,454.8 L244.0,458.0 L244.5,456.9 L245.0,454.0 L245.5,459.3 L246.0,457.0 L246.5,455.2 L247.0,454.4 L247.5,455.6 L248.0,459.0 L248.5,457.8 L249.0,459.0 L249.5,462.9 L250.0,464.0 L250.5,463.9 L251.0,462.8 L251.5,466.0 L252.0,465.0 L252.5,462.4 L253.0,468.7 L253.5,469.2 L254.0,465.0 L254.5,466.8 L255.0,463.9 L255.5,464.4 L256.0,464.0 L256.5,465.0 L257.0,460.5 L257.5,464.0 L258.0,465.0 L258.5,464.5 L259.0,460.6 L259.5,459.1 L260.0,462.0 L260.5,464.2 L261.0,459.8 L261.5,460.7 L262.0,460.0 L262.5,464.3 L263.0,462.0 L263.5,459.6 L264.0,462.0 L264.5,466.9 L265.0,461.9 L265.5,459.2 L266.0,464.0 L266.5,465.9 L267.0,460.9 L267.5,463.0 L268.0,465.0 L268.5,467.8 L269.0,466.1 L269.5,459.9 L270.0,464.0 L270.5,462.6 L271.0,461.2 L271.5,460.9 L272.0,460.0 L272.5,455.4 L273.0,456.8 L273.5,450.2 L274.0,452.0 L274.5,449.4 L275.0,449.5 L275.5,450.0 L276.0,455.9 L276.5,450.2 L277.0,456.0 L277.5,459.3 L278.0,455.2 L278.5,459.6 L279.0,460.0 L279.5,458.5 L280.0,458.7 L280.5,460.8 L281.0,458.0 L281.5,457.3 L282.0,455.1 L282.5,455.3 L283.0,459.0 L283.5,454.7 L284.0,461.2 L284.5,458.8 L285.0,457.0 L285.5,460.4 L286.0,457.2 L286.5,450.5 L287.0,454.0 L287.5,454.9 L288.0,455.5 L288.5,454.5 L289.0,452.0 L289.5,452.0 L290.0,450.7 L290.5,451.6 L291.0,452.0 L291.5,455.2 L292.0,450.9 L292.5,453.7 L293.0,454.0 L293.5,457.8 L294.0,462.0 L294.5,468.1 L295.0,466.0 L295.5,467.7 L296.0,464.0 L296.5,463.9 L297.0,456.0 L297.5,456.0 L298.0,450.0 L298.5,447.4 L299.0,446.1 L299.5,447.6 L300.0,447.0 L300.5,444.6 L301.0,445.8 L301.5,447.9 L302.0,446.0 L302.5,449.3 L303.0,445.8 L303.5,447.4 L304.0,444.0 L304.5,439.4 L305.0,440.7 L305.5,445.5 L306.0,440.0 L306.5,435.8 L307.0,437.3 L307.5,433.1 L308.0,436.0 L308.5,431.3 L309.0,437.6 L309.5,437.4 L310.0,432.0 L310.5,432.0 L311.0,426.0 L311.5,428.0 L312.1,423.7 L312.7,423.0 L313.4,423.1 L314.0,428.0 L314.5,433.5 L315.0,436.0 L315.5,439.6 L316.1,439.4 L316.6,442.0 L317.1,438.2 L317.5,430.5 L318.0,430.0 L318.5,428.4 L319.0,430.0 L319.5,426.3 L320.0,422.0 L320.5,417.4 L321.0,420.1 L321.5,420.9 L322.0,418.0 L322.5,417.3 L323.0,424.6 L323.5,422.1 L324.0,424.0 L324.5,427.3 L325.0,426.1 L325.5,433.0 L326.0,430.0 L326.5,432.5 L327.0,430.7 L327.5,426.8 L328.0,430.0 L328.5,430.0 L329.0,426.8 L329.5,432.4 L330.0,432.0 L330.5,437.4 L331.0,433.1 L331.5,438.1 L332.0,440.0 L332.5,441.3 L333.0,442.1 L333.5,446.4 L334.0,446.0 L334.5,450.4 L335.0,448.8 L335.5,447.3 L336.0,448.0 L336.5,452.7 L337.0,447.5 L337.5,451.7 L338.0,450.0 L338.5,452.4 L339.0,454.4 L339.5,456.2 L340.0,454.0 L340.5,453.5 L341.0,459.1 L341.5,459.1 L342.0,462.0 L342.5,461.5 L343.0,458.0 L343.5,459.3 L344.0,452.0 L344.5,449.2 L345.0,444.0 L345.5,438.6 L346.0,441.7 L346.5,442.9 L347.0,440.0 L347.5,442.9 L348.0,440.4 L348.5,441.3 L349.0,438.0 L349.5,432.7 L350.0,440.0 L350.5,437.1 L351.0,434.0 L351.5,434.2 L352.0,436.1 L352.5,435.2 L353.0,431.0 L353.5,427.4 L354.0,433.8 L354.5,433.4 L355.0,431.0 L355.5,427.3 L356.0,431.2 L356.5,428.8 L357.0,427.0 L357.5,423.5 L358.0,428.2 L358.5,421.5 L359.0,424.0 L359.5,426.5 L360.0,426.4 L360.5,426.3 L361.0,430.0 L361.5,429.3 L362.0,427.2 L362.5,423.6 L363.0,425.0 L363.5,427.7 L364.0,418.2 L364.5,416.0 L365.0,419.0 L365.5,420.6 L366.0,425.5 L366.5,425.7 L367.0,426.0 L367.5,429.3 L368.0,427.9 L368.5,430.6 L369.0,430.0 L369.5,428.0 L370.0,426.9 L370.5,428.5 L371.0,428.0 L371.5,424.0 L372.0,424.7 L372.5,431.0 L373.0,429.0 L373.5,426.3 L374.0,431.8 L374.5,432.3 L375.0,430.0 L375.5,429.6 L376.0,432.6 L376.5,434.1 L377.0,432.0 L377.5,435.5 L378.0,429.2 L378.5,429.7 L379.0,433.0 L379.5,432.2 L380.0,433.2 L380.5,431.9 L381.0,434.0 L381.5,429.8 L382.0,435.0 L382.5,439.0 L383.0,435.0 L383.5,434.5 L384.0,436.8 L384.5,436.2 L385.0,438.0 L385.5,441.5 L386.0,446.0 L386.5,452.3 L387.0,452.0 L387.5,454.3 L388.0,460.0 L388.5,463.3 L389.0,463.9 L389.5,466.3 L390.0,468.0 L390.5,474.7 L391.0,474.0 L391.5,468.2 L392.0,470.0 L392.5,468.9 L393.0,462.0 L393.5,457.2 L394.0,456.0 L394.5,453.3 L395.0,448.0 L395.5,448.9 L396.0,445.9 L396.5,441.8 L397.0,441.0 L397.5,443.3 L398.0,435.8 L398.5,439.9 L399.0,438.0 L399.5,436.5 L400.0,437.3 L400.5,439.7 L401.0,436.0 L401.5,438.0 L402.0,435.8 L402.5,434.0 L403.0,433.6 L403.5,434.3 L404.0,438.0 L404.5,440.6 L405.0,444.0 L405.5,443.6 L406.0,446.0 L406.5,454.1 L407.0,452.0 L407.5,450.5 L408.0,458.9 L408.5,456.9 L409.0,460.0 L409.5,462.8 L410.0,468.0 L410.5,469.4 L411.0,470.2 L411.5,477.0 L412.0,475.6 L412.5,472.0 L413.0,474.0 L413.5,469.5 L414.0,466.0 L414.5,462.6 L415.0,466.6 L415.5,465.3 L416.0,460.0 L416.5,457.5 L417.0,456.0 L417.5,453.9 L418.0,453.2 L418.5,446.0 L419.0,458.0 L419.5,459.4 L420.0,464.0 L420.5,461.4 L421.0,463.6 L421.5,464.2 L422.0,468.0 L422.5,469.1 L423.0,465.9 L423.5,465.2 L424.0,466.0 L424.5,466.7 L425.0,459.6 L425.5,460.0 L426.0,466.1 L426.5,467.9 L427.0,470.0 L427.6,471.4 L428.1,477.6 L428.7,477.0 L429.4,475.1 L430.0,476.0 L430.5,478.4 L431.0,474.0 L431.5,437.0 L432.0,439.2 L432.5,433.7 L433.0,432.0 L433.5,431.7 L434.0,428.0 L434.6,430.5 L435.2,425.0 L435.8,428.2 L436.4,429.3 L437.0,428.0 L437.5,433.3 L438.0,435.9 L438.5,436.3 L439.0,436.0 L439.5,443.3 L440.0,442.0 L440.5,442.1 L441.0,447.1 L441.5,449.5 L442.0,450.0 L442.5,450.3 L443.0,452.1 L443.5,451.6 L444.0,456.0 L444.6,462.1 L445.3,460.0 L445.9,456.0 L446.4,454.5 L447.0,452.0 L447.5,453.0 L448.0,444.2 L448.5,448.6 L449.0,442.0 L449.5,438.1 L450.0,436.8 L450.5,439.2 L451.0,440.0 L451.5,437.2 L452.0,440.8 L452.5,438.9 L453.0,434.0 L453.6,434.9 L454.2,431.0 L454.8,432.1 L455.4,434.7 L456.0,436.0 L456.5,435.1 L457.0,442.0 L457.5,439.5 L458.0,442.0 L458.5,441.1 L459.0,445.2 L459.5,441.9 L460.0,446.0 L460.5,442.8 L461.0,446.8 L461.5,437.9 L462.0,440.0 L462.5,436.3 L463.0,436.3 L463.5,436.3 L464.0,438.0 L464.5,438.8 L465.0,438.8 L465.5,441.1 L466.0,444.0 L466.5,443.2 L467.0,444.7 L467.5,449.5 L468.0,450.0 L468.5,449.3 L469.0,450.4 L469.5,454.7 L470.0,453.0 L470.5,449.3 L471.0,450.3 L471.5,456.9 L472.0,454.0 L472.5,453.6 L473.0,457.0 L473.5,451.4 L474.0,455.0 L474.5,455.0 L475.0,457.6 L475.5,452.8 L476.0,454.0 L476.5,455.4 L477.0,453.0 L477.5,450.1 L478.0,450.0 L478.5,452.5 L479.0,445.0 L479.5,443.8 L480.0,442.0 L480.6,442.3 L481.1,438.8 L481.7,442.6 L482.2,439.7 L482.8,438.0 L483.4,440.8 L484.0,442.0 L484.5,444.3 L485.0,450.4 L485.5,452.4 L486.0,450.0 L486.5,454.3 L487.0,452.1 L487.5,453.0 L488.0,455.0 L488.5,453.7 L489.0,452.0 L489.5,443.9 L490.0,444.0 L490.5,439.5 L491.0,446.5 L491.5,437.7 L492.0,440.0 L492.5,443.4 L493.0,440.6 L493.5,442.2 L494.0,438.0 L494.5,434.7 L495.0,437.3 L495.5,442.2 L496.0,440.0 L496.5,436.8 L497.0,439.0 L497.5,442.4 L498.0,445.0 L498.5,443.3 L499.0,444.3 L499.5,450.3 L500.0,450.0 L500.5,445.8 L501.0,453.2 L501.5,449.8 L502.0,448.0 L502.5,441.3 L503.0,446.3 L503.5,440.0 L504.0,437.0 L504.5,438.5 L505.0,438.0 L505.5,437.5 L506.0,432.7 L506.5,435.0 L507.0,434.0 L507.5,428.0 L508.0,430.0 L508.5,426.5 L509.0,432.3 L509.5,430.6 L510.0,427.0 L510.5,428.9 L511.0,432.0 L511.5,432.0 L512.0,444.0 L512.5,447.9 L513.0,441.8 L513.5,445.4 L514.0,446.0 L514.5,443.2 L515.0,443.5 L515.5,444.0 L516.0,448.0 L516.5,446.4 L517.0,446.0 L517.5,448.4 L518.0,452.0 L518.5,450.9 L519.0,453.1 L519.5,455.2 L520.0,452.0 L520.5,455.6 L521.0,452.0 L521.5,455.0 L522.0,454.1 L522.5,458.8 L523.0,456.0 L523.5,453.0 L524.0,452.4 L524.5,458.9 L525.0,456.0 L525.5,456.6 L526.0,452.4 L526.5,453.4 L527.0,454.0 L527.5,451.2 L528.0,451.4 L528.5,450.3 L529.0,450.0 L529.5,448.6 L530.0,451.7 L530.5,451.3 L531.0,448.0 L531.5,449.6 L532.0,449.8 L532.5,449.1 L533.0,452.0 L533.5,458.4 L534.0,460.0 L534.5,467.4 L535.0,466.0 L535.5,465.2 L536.0,471.2 L536.5,471.0 L537.0,471.3 L537.5,468.0 L539.0,434.0 L539.5,436.4 L540.0,436.0 L540.5,435.8 L541.0,444.0 L541.5,446.0 L542.0,444.3 L542.5,445.7 L543.0,450.0 L543.5,452.2 L544.0,454.3 L544.5,455.6 L545.0,456.0 L545.5,459.9 L546.0,461.3 L546.5,461.0 L547.0,463.0 L547.5,457.4 L548.0,460.0 L548.5,460.5 L549.0,458.9 L549.5,457.0 L550.0,452.0 L550.5,451.9 L551.0,445.8 L551.5,446.3 L552.0,448.0 L552.5,443.5 L553.0,447.2 L553.5,445.4 L554.0,444.0 L554.5,440.7 L555.0,447.1 L555.5,446.8 L556.0,442.0 L556.5,445.6 L557.0,441.7 L557.5,440.1 L558.0,442.0 L558.5,440.4 L559.0,446.9 L559.5,446.8 L560.0,446.0 L560.5,444.5 L561.0,450.6 L561.5,448.1 L562.0,448.0 L562.5,447.2 L563.0,447.2 L563.5,450.0 L564.0,448.0 L564.5,448.1 L565.0,450.4 L565.5,446.1 L566.0,450.0 L566.5,452.8 L567.0,450.0 L567.5,456.7 L568.0,454.0 L568.5,450.9 L569.0,451.5 L569.5,452.8 L570.0,452.0 L570.5,451.5 L571.0,453.2 L571.5,457.3 L572.0,454.0 L572.5,451.8 L573.0,457.4 L573.5,457.2 L574.0,456.0 L574.5,459.6 L575.0,457.5 L575.5,458.6 L576.0,460.0 L576.5,459.3 L576.9,461.1 L577.4,462.0 L577.9,457.8 L578.5,455.2 L579.0,456.0 L579.5,453.8 L580.0,449.2 L580.5,449.7 L581.0,448.0 L581.6,447.3 L582.1,443.6 L582.7,444.0 L583.4,443.0 L584.0,448.0 L584.5,450.9 L585.0,455.2 L585.5,451.5 L586.0,456.0 L586.5,458.0 L587.0,459.4 L587.5,462.5 L588.0,460.0 L588.5,463.1 L589.0,461.3 L589.5,461.9 L590.0,466.0 L590.5,470.5 L591.0,467.2 L591.5,466.1 L592.0,472.0 L592.5,473.8 L593.0,466.3 L593.5,465.8 L594.0,466.0 L594.5,459.4 L595.0,456.0 L595.5,452.1 L596.0,454.7 L596.5,451.0 L597.0,451.3 L597.5,453.8 L598.0,456.0 L598.5,456.3 L599.0,461.0 L599.5,454.7 L600.0,460.0 L600.5,460.2 L601.0,455.7 L601.5,455.4 L602.0,458.0 L602.5,457.5 L603.0,453.9 L603.5,449.6 L604.0,452.0 L604.5,452.3 L605.0,454.7 L605.5,451.8 L606.0,450.0 L606.5,449.0 L607.0,450.7 L607.5,450.7 L608.0,446.0 L608.5,442.1 L609.0,442.7 L609.5,447.9 L610.0,443.0 L610.5,446.1 L611.0,438.8 L611.5,442.6 L612.0,440.0 L612.5,443.1 L613.0,440.3 L613.5,441.1 L614.0,439.0 L614.5,440.5 L615.0,439.1 L615.5,440.2 L616.0,444.0 L616.5,442.1 L617.0,449.5 L617.5,446.7 L618.0,452.0 L618.5,454.1 L619.0,454.0 L619.5,451.5 L620.0,450.4 L620.5,453.7 L621.0,448.0 L621.5,446.5 L622.0,446.8 L622.5,445.4 L623.0,446.0 L623.5,443.4 L624.0,443.5 L624.5,446.3 L625.0,446.0 L625.5,448.4 L626.0,441.3 L626.5,448.5 L627.0,444.0 L627.5,444.6 L628.0,438.0 L628.5,442.9 L629.0,440.0 L629.5,438.1 L630.0,438.1 L630.5,433.4 L631.0,436.0 L631.5,435.4 L632.0,434.8 L632.5,434.0" fill="none" stroke="#87ceeb" stroke-opacity="0.9" stroke-width="2.0"/>
<g fill="#87ceeb" fill-opacity="0.8">
<use href="#s" x="101.0" y="468.0"/>
<use href="#s" x="101.5" y="473.8"/>
<use href="#s" x="102.0" y="472.2"/>
<use href="#s" x="102.5" y="456.4"/>
<use href="#s" x="103.0" y="462.0"/>
<use href="#s" x="103.5" y="456.4"/>
<use href="#s" x="104.0" y="469.4"/>
<use href="#s" x="104.5" y="468.8"/>
<use href="#s" x="105.0" y="466.0"/>
<use href="#s" x="105.5" y="470.2"/>
<use href="#s" x="106.0" y="465.9"/>
<use href="#s" x="106.5" y="472.2"/>
<use href="#s" x="107.0" y="472.0"/>
<use href="#s" x="107.5" y="472.7"/>
<use href="#s" x="108.0" y="471.3"/>
<use href="#s" x="108.5" y="463.5"/>
<use href="#s" x="109.0" y="468.0"/>
<use href="#s" x="109.5" y="467.4"/>
<use href="#s" x="110.0" y="467.3"/>
<use href="#s" x="110.5" y="473.1"/>
<use href="#s" x="111.0" y="470.0"/>
<use href="#s" x="111.5" y="476.7"/>
<use href="#s" x="112.0" y="474.7"/>
<use href="#s" x="112.5" y="467.0"/>
<use href="#s" x="113.0" y="465.0"/>
<use href="#s" x="113.5" y="464.4"/>
<use href="#s" x="114.0" y="461.8"/>
<use href="#s" x="114.5" y="458.3"/>
<use href="#s" x="115.0" y="466.0"/>
<use href="#s" x="115.5" y="458.9"/>
<use href="#s" x="116.0" y="466.4"/>
<use href="#s" x="116.5" y="464.6"/>
<use href="#s" x="117.0" y="468.0"/>
<use href="#s" x="117.5" y="466.6"/>
<use href="#s" x="118.0" y="475.3"/>
<use href="#s" x="118.5" y="469.9"/>
<use href="#s" x="119.0" y="470.0"/>
<use href="#s" x="119.5" y="470.0"/>
<use href="#s" x="120.0" y="463.8"/>
<use href="#s" x="120.5" y="459.4"/>
<use href="#s" x="121.0" y="466.0"/>
<use href="#s" x="121.5" y="463.7"/>
<use href="#s" x="122.0" y="461.2"/>
<use href="#s" x="122.5" y="467.7"/>
<use href="#s" x="123.0" y="468.0"/>
<use href="#s" x="123.5" y="475.2"/>
<use href="#s" x="124.0" y="469.3"/>
<use href="#s" x="124.5" y="460.7"/>
<use href="#s" x="125.0" y="465.0"/>
<use href="#s" x="125.5" y="472.0"/>
<use href="#s" x="126.0" y="471.2"/>
<use href="#s" x="126.5" y="471.0"/>
<use href="#s" x="127.0" y="468.0"/>
<use href="#s" x="127.5" y="473.0"/>
<use href="#s" x="128.0" y="469.2"/>
<use href="#s" x="128.5" y="468.1"/>
<use href="#s" x="129.0" y="462.0"/>
<use href="#s" x="129.5" y="456.0"/>
<use href="#s" x="130.5" y="380.0"/>
<use href="#s" x="131.0" y="379.9"/>
<use href="#s" x="131.5" y="387.5"/>
<use href="#s" x="132.0" y="384.0"/>
<use href="#s" x="132.5" y="394.1"/>
<use href="#s" x="133.0" y="395.0"/>
<use href="#s" x="133.5" y="396.1"/>
<use href="#s" x="134.0" y="404.0"/>
<use href="#s" x="134.5" y="407.5"/>
<use href="#s" x="135.0" y="408.2"/>
<use href="#s" x="135.5" y="406.6"/>
<use href="#s" x="136.0" y="408.0"/>
<use href="#s" x="136.5" y="408.8"/>
<use href="#s" x="137.0" y="408.9"/>
<use href="#s" x="137.5" y="413.7"/>
<use href="#s" x="138.0" y="410.0"/>
<use href="#s" x="138.5" y="410.5"/>
<use href="#s" x="139.0" y="414.3"/>
<use href="#s" x="139.5" y="410.0"/>
<use href="#s" x="140.0" y="412.0"/>
<use href="#s" x="140.5" y="416.8"/>
<use href="#s" x="141.0" y="418.0"/>
<use href="#s" x="141.5" y="414.6"/>
<use href="#s" x="142.0" y="416.0"/>
<use href="#s" x="142.5" y="418.7"/>
<use href="#s" x="143.0" y="424.2"/>
<use href="#s" x="143.5" y="424.2"/>
<use href="#s" x="144.0" y="424.0"/>
<use href="#s" x="144.5" y="425.4"/>
<use href="#s" x="145.0" y="424.2"/>
<use href="#s" x="145.5" y="426.7"/>
<use href="#s" x="146.0" y="430.0"/>
<use href="#s" x="146.5" y="434.0"/>
<use href="#s" x="147.0" y="392.0"/>
<use href="#s" x="147.5" y="395.5"/>
<use href="#s" x="148.0" y="391.7"/>
<use href="#s" x="148.5" y="400.6"/>
<use href="#s" x="149.0" y="398.0"/>
<use href="#s" x="149.5" y="395.2"/>
<use href="#s" x="150.0" y="401.1"/>
<use href="#s" x="150.5" y="394.6"/>
<use href="#s" x="151.0" y="396.0"/>
<use href="#s" x="151.5" y="401.6"/>
<use href="#s" x="152.0" y="400.1"/>
<use href="#s" x="152.5" y="399.0"/>
<use href="#s" x="153.0" y="400.0"/>
<use href="#s" x="153.5" y="398.2"/>
<use href="#s" x="154.0" y="397.5"/>
<use href="#s" x="154.5" y="394.9"/>
<use href="#s" x="155.0" y="392.0"/>
<use href="#s" x="155.5" y="384.1"/>
<use href="#s" x="156.0" y="380.0"/>
<use href="#s" x="156.5" y="374.6"/>
<use href="#s" x="157.0" y="375.1"/>
<use href="#s" x="157.5" y="376.8"/>
<use href="#s" x="158.0" y="370.0"/>
<use href="#s" x="158.5" y="369.7"/>
<use href="#s" x="159.0" y="362.8"/>
<use href="#s" x="159.5" y="368.7"/>
<use href="#s" x="160.0" y="364.0"/>
<use href="#s" x="160.5" y="364.8"/>
<use href="#s" x="161.0" y="365.1"/>
<use href="#s" x="161.5" y="356.4"/>
<use href="#s" x="162.0" y="358.0"/>
<use href="#s" x="162.5" y="358.4"/>
<use href="#s" x="163.0" y="349.6"/>
<use href="#s" x="163.5" y="353.5"/>
<use href="#s" x="164.0" y="350.0"/>
<use href="#s" x="164.5" y="342.7"/>
<use href="#s" x="165.0" y="340.0"/>
<use href="#s" x="165.5" y="331.3"/>
<use href="#s" x="166.0" y="328.0"/>
<use href="#s" x="166.5" y="325.8"/>
<use href="#s" x="167.0" y="316.0"/>
<use href="#s" x="167.5" y="308.1"/>
<use href="#s" x="168.0" y="308.0"/>
<use href="#s" x="168.5" y="307.2"/>
<use href="#s" x="169.0" y="306.0"/>
<use href="#s" x="169.7" y="430.0"/>
<use href="#s" x="170.3" y="436.0"/>
<use href="#s" x="171.0" y="435.0"/>
<use href="#s" x="171.5" y="431.9"/>
<use href="#s" x="172.0" y="431.1"/>
<use href="#s" x="172.5" y="437.3"/>
<use href="#s" x="173.0" y="433.0"/>
<use href="#s" x="174.5" y="297.0"/>
<use href="#s" x="175.0" y="302.0"/>
<use href="#s" x="175.5" y="321.0"/>
<use href="#s" x="176.0" y="340.0"/>
<use href="#s" x="176.5" y="358.0"/>
<use href="#s" x="177.0" y="390.0"/>
<use href="#s" x="177.5" y="392.2"/>
<use href="#s" x="178.0" y="396.0"/>
<use href="#s" x="178.5" y="400.2"/>
<use href="#s" x="179.0" y="395.3"/>
<use href="#s" x="179.5" y="400.6"/>
<use href="#s" x="180.0" y="404.0"/>
<use href="#s" x="180.5" y="399.7"/>
<use href="#s" x="181.0" y="403.7"/>
<use href="#s" x="181.5" y="396.8"/>
<use href="#s" x="182.0" y="400.0"/>
<use href="#s" x="183.5" y="318.0"/>
<use href="#s" x="184.0" y="323.5"/>
<use href="#s" x="184.5" y="320.0"/>
<use href="#s" x="185.0" y="424.0"/>
<use href="#s" x="185.5" y="421.9"/>
<use href="#s" x="186.0" y="431.6"/>
<use href="#s" x="186.5" y="432.0"/>
<use href="#s" x="187.0" y="428.5"/>
<use href="#s" x="187.5" y="432.2"/>
<use href="#s" x="188.0" y="436.0"/>
<use href="#s" x="188.5" y="435.1"/>
<use href="#s" x="189.0" y="428.0"/>
<use href="#s" x="190.0" y="390.0"/>
<use href="#s" x="190.5" y="387.6"/>
<use href="#s" x="191.0" y="392.0"/>
<use href="#s" x="192.0" y="418.0"/>
<use href="#s" x="192.5" y="415.8"/>
<use href="#s" x="193.0" y="420.0"/>
<use href="#s" x="194.0" y="372.0"/>
<use href="#s" x="194.5" y="371.9"/>
<use href="#s" x="195.0" y="366.9"/>
<use href="#s" x="195.5" y="361.4"/>
<use href="#s" x="196.0" y="364.0"/>
<use href="#s" x="196.5" y="366.9"/>
<use href="#s" x="197.0" y="356.5"/>
<use href="#s" x="197.5" y="353.4"/>
<use href="#s" x="198.0" y="356.0"/>
<use href="#s" x="198.5" y="351.9"/>
<use href="#s" x="199.0" y="351.0"/>
<use href="#s" x="199.5" y="356.7"/>
<use href="#s" x="200.0" y="360.0"/>
<use href="#s" x="200.5" y="368.4"/>
<use href="#s" x="201.0" y="372.0"/>
<use href="#s" x="201.5" y="458.0"/>
<use href="#s" x="202.0" y="457.1"/>
<use href="#s" x="202.5" y="464.0"/>
<use href="#s" x="203.0" y="460.4"/>
<use href="#s" x="203.5" y="460.0"/>
<use href="#s" x="204.0" y="400.0"/>
<use href="#s" x="204.5" y="394.8"/>
<use href="#s" x="205.0" y="398.5"/>
<use href="#s" x="205.5" y="401.2"/>
<use href="#s" x="206.0" y="398.0"/>
<use href="#s" x="206.5" y="403.4"/>
<use href="#s" x="207.0" y="404.0"/>
<use href="#s" x="207.5" y="411.0"/>
<use href="#s" x="208.0" y="410.0"/>
<use href="#s" x="208.5" y="468.0"/>
<use href="#s" x="209.0" y="471.2"/>
<use href="#s" x="209.5" y="473.0"/>
<use href="#s" x="210.0" y="470.0"/>
<use href="#s" x="211.0" y="444.0"/>
<use href="#s" x="211.5" y="448.1"/>
<use href="#s" x="212.0" y="448.0"/>
<use href="#s" x="212.5" y="444.7"/>
<use href="#s" x="213.0" y="442.0"/>
<use href="#s" x="213.5" y="433.3"/>
<use href="#s" x="214.0" y="430.0"/>
<use href="#s" x="214.5" y="425.6"/>
<use href="#s" x="215.0" y="418.0"/>
<use href="#s" x="215.5" y="411.2"/>
<use href="#s" x="216.0" y="408.0"/>
<use href="#s" x="216.5" y="402.5"/>
<use href="#s" x="217.0" y="404.5"/>
<use href="#s" x="217.5" y="407.2"/>
<use href="#s" x="218.0" y="402.0"/>
<use href="#s" x="218.5" y="397.3"/>
<use href="#s" x="219.0" y="400.0"/>
<use href="#s" x="219.5" y="405.8"/>
<use href="#s" x="220.0" y="410.0"/>
<use href="#s" x="220.5" y="417.9"/>
<use href="#s" x="221.0" y="428.0"/>
<use href="#s" x="221.5" y="430.1"/>
<use href="#s" x="222.0" y="432.0"/>
<use href="#s" x="222.5" y="417.4"/>
<use href="#s" x="223.0" y="410.0"/>
<use href="#s" x="223.5" y="409.6"/>
<use href="#s" x="224.0" y="400.0"/>
<use href="#s" x="224.5" y="398.6"/>
<use href="#s" x="225.0" y="402.0"/>
<use href="#s" x="226.0" y="462.0"/>
<use href="#s" x="226.5" y="464.1"/>
<use href="#s" x="227.0" y="463.2"/>
<use href="#s" x="227.5" y="460.2"/>
<use href="#s" x="228.0" y="466.0"/>
<use href="#s" x="228.5" y="467.1"/>
<use href="#s" x="229.0" y="463.4"/>
<use href="#s" x="229.5" y="463.1"/>
<use href="#s" x="230.0" y="468.0"/>
<use href="#s" x="230.5" y="462.3"/>
<use href="#s" x="231.0" y="462.0"/>
<use href="#s" x="231.5" y="459.9"/>
<use href="#s" x="232.0" y="462.0"/>
<use href="#s" x="232.5" y="459.7"/>
<use href="#s" x="233.0" y="455.1"/>
<use href="#s" x="233.5" y="455.9"/>
<use href="#s" x="234.0" y="448.0"/>
<use href="#s" x="234.5" y="449.9"/>
<use href="#s" x="235.0" y="444.0"/>
<use href="#s" x="235.5" y="452.5"/>
<use href="#s" x="236.0" y="452.0"/>
<use href="#s" x="236.5" y="453.1"/>
<use href="#s" x="237.0" y="458.5"/>
<use href="#s" x="237.5" y="460.3"/>
<use href="#s" x="238.0" y="466.0"/>
<use href="#s" x="238.5" y="466.8"/>
<use href="#s" x="239.0" y="467.1"/>
<use href="#s" x="239.5" y="468.7"/>
<use href="#s" x="240.0" y="466.0"/>
<use href="#s" x="240.5" y="466.9"/>
<use href="#s" x="241.0" y="461.8"/>
<use href="#s" x="241.5" y="462.3"/>
<use href="#s" x="242.0" y="462.0"/>
<use href="#s" x="242.5" y="461.2"/>
<use href="#s" x="243.0" y="455.5"/>
<use href="#s" x="243.5" y="454.8"/>
<use href="#s" x="244.0" y="458.0"/>
<use href="#s" x="244.5" y="456.9"/>
<use href="#s" x="245.0" y="454.0"/>
<use href="#s" x="245.5" y="459.3"/>
<use href="#s" x="246.0" y="457.0"/>
<use href="#s" x="246.5" y="455.2"/>
<use href="#s" x="247.0" y="454.4"/>
<use href="#s" x="247.5" y="455.6"/>
<use href="#s" x="248.0" y="459.0"/>
<use href="#s" x="248.5" y="457.8"/>
<use href="#s" x="249.0" y="459.0"/>
<use href="#s" x="249.5" y="462.9"/>
<use href="#s" x="250.0" y="464.0"/>
<use href="#s" x="250.5" y="463.9"/>
<use href="#s" x="251.0" y="462.8"/>
<use href="#s" x="251.5" y="466.0"/>
<use href="#s" x="252.0" y="465.0"/>
<use href="#s" x="252.5" y="462.4"/>
<use href="#s" x="253.0" y="468.7"/>
<use href="#s" x="253.5" y="469.2"/>
<use href="#s" x="254.0" y="465.0"/>
<use href="#s" x="254.5" y="466.8"/>
<use href="#s" x="255.0" y="463.9"/>
<use href="#s" x="255.5" y="464.4"/>
<use href="#s" x="256.0" y="464.0"/>
<use href="#s" x="256.5" y="465.0"/>
<use href="#s" x="257.0" y="460.5"/>
<use href="#s" x="257.5" y="464.0"/>
<use href="#s" x="258.0" y="465.0"/>
<use href="#s" x="258.5" y="464.5"/>
<use href="#s" x="259.0" y="460.6"/>
<use href="#s" x="259.5" y="459.1"/>
<use href="#s" x="260.0" y="462.0"/>
<use href="#s" x="260.5" y="464.2"/>
<use href="#s" x="261.0" y="459.8"/>
<use href="#s" x="261.5" y="460.7"/>
<use href="#s" x="262.0" y="460.0"/>
<use href="#s" x="262.5" y="464.3"/>
<use href="#s" x="263.0" y="462.0"/>
<use href="#s" x="263.5" y="459.6"/>
<use href="#s" x="264.0" y="462.0"/>
<use href="#s" x="264.5" y="466.9"/>
<use href="#s" x="265.0" y="461.9"/>
<use href="#s" x="265.5" y="459.2"/>
<use href="#s" x="266.0" y="464.0"/>
<use href="#s" x="266.5" y="465.9"/>
<use href="#s" x="267.0" y="460.9"/>
<use href="#s" x="267.5" y="463.0"/>
<use href="#s" x="268.0" y="465.0"/>
<use href="#s" x="268.5" y="467.8"/>
<use href="#s" x="269.0" y="466.1"/>
<use href="#s" x="269.5" y="459.9"/>
<use href="#s" x="270.0" y="464.0"/>
<use href="#s" x="270.5" y="462.6"/>
<use href="#s" x="271.0" y="461.2"/>
<use href="#s" x="271.5" y="460.9"/>
<use href="#s" x="272.0" y="460.0"/>
<use href="#s" x="272.5" y="455.4"/>
<use href="#s" x="273.0" y="456.8"/>
<use href="#s" x="273.5" y="450.2"/>
<use href="#s" x="274.0" y="452.0"/>
<use href="#s" x="274.5" y="449.4"/>
<use href="#s" x="275.0" y="449.5"/>
<use href="#s" x="275.5" y="450.0"/>
<use href="#s" x="276.0" y="455.9"/>
<use href="#s" x="276.5" y="450.2"/>
<use href="#s" x="277.0" y="456.0"/>
<use href="#s" x="277.5" y="459.3"/>
<use href="#s" x="278.0" y="455.2"/>
<use href="#s" x="278.5" y="459.6"/>
<use href="#s" x="279.0" y="460.0"/>
<use href="#s" x="279.5" y="458.5"/>
<use href="#s" x="280.0" y="458.7"/>
<use href="#s" x="280.5" y="460.8"/>
<use href="#s" x="281.0" y="458.0"/>
<use href="#s" x="281.5" y="457.3"/>
<use href="#s" x="282.0" y="455.1"/>
<use href="#s" x="282.5" y="455.3"/>
<use href="#s" x="283.0" y="459.0"/>
<use href="#s" x="283.5" y="454.7"/>
<use href="#s" x="284.0" y="461.2"/>
<use href="#s" x="284.5" y="458.8"/>
<use href="#s" x="285.0" y="457.0"/>
<use href="#s" x="285.5" y="460.4"/>
<use href="#s" x="286.0" y="457.2"/>
<use href="#s" x="286.5" y="450.5"/>
<use href="#s" x="287.0" y="454.0"/>
<use href="#s" x="287.5" y="454.9"/>
<use href="#s" x="288.0" y="455.5"/>
<use href="#s" x="288.5" y="454.5"/>
<use href="#s" x="289.0" y="452.0"/>
<use href="#s" x="289.5" y="452.0"/>
<use href="#s" x="290.0" y="450.7"/>
<use href="#s" x="290.5" y="451.6"/>
<use href="#s" x="291.0" y="452.0"/>
<use href="#s" x="291.5" y="455.2"/>
<use href="#s" x="292.0" y="450.9"/>
<use href="#s" x="292.5" y="453.7"/>
<use href="#s" x="293.0" y="454.0"/>
<use href="#s" x="293.5" y="457.8"/>
<use href="#s" x="294.0" y="462.0"/>
<use href="#s" x="294.5" y="468.1"/>
<use href="#s" x="295.0" y="466.0"/>
<use href="#s" x="295.5" y="467.7"/>
<use href="#s" x="296.0" y="464.0"/>
<use href="#s" x="296.5" y="463.9"/>
<use href="#s" x="297.0" y="456.0"/>
<use href="#s" x="297.5" y="456.0"/>
<use href="#s" x="298.0" y="450.0"/>
<use href="#s" x="298.5" y="447.4"/>
<use href="#s" x="299.0" y="446.1"/>
<use href="#s" x="299.5" y="447.6"/>
<use href="#s" x="300.0" y="447.0"/>
<use href="#s" x="300.5" y="444.6"/>
<use href="#s" x="301.0" y="445.8"/>
<use href="#s" x="301.5" y="447.9"/>
<use href="#s" x="302.0" y="446.0"/>
<use href="#s" x="302.5" y="449.3"/>
<use href="#s" x="303.0" y="445.8"/>
<use href="#s" x="303.5" y="447.4"/>
<use href="#s" x="304.0" y="444.0"/>
<use href="#s" x="304.5" y="439.4"/>
<use href="#s" x="305.0" y="440.7"/>
<use href="#s" x="305.5" y="445.5"/>
<use href="#s" x="306.0" y="440.0"/>
<use href="#s" x="306.5" y="435.8"/>
<use href="#s" x="307.0" y="437.3"/>
<use href="#s" x="307.5" y="433.1"/>
<use href="#s" x="308.0" y="436.0"/>
<use href="#s" x="308.5" y="431.3"/>
<use href="#s" x="309.0" y="437.6"/>
<use href="#s" x="309.5" y="437.4"/>
<use href="#s" x="310.0" y="432.0"/>
<use href="#s" x="310.5" y="432.0"/>
<use href="#s" x="311.0" y="426.0"/>
<use href="#s" x="311.5" y="428.0"/>
<use href="#s" x="312.1" y="423.7"/>
<use href="#s" x="312.7" y="423.0"/>
<use href="#s" x="313.4" y="423.1"/>
<use href="#s" x="314.0" y="428.0"/>
<use href="#s" x="314.5" y="433.5"/>
<use href="#s" x="315.0" y="436.0"/>
<use href="#s" x="315.5" y="439.6"/>
<use href="#s" x="316.1" y="439.4"/>
<use href="#s" x="316.6" y="442.0"/>
<use href="#s" x="317.1" y="438.2"/>
<use href="#s" x="317.5" y="430.5"/>
<use href="#s" x="318.0" y="430.0"/>
<use href="#s" x="318.5" y="428.4"/>
<use href="#s" x="319.0" y="430.0"/>
<use href="#s" x="319.5" y="426.3"/>
<use href="#s" x="320.0" y="422.0"/>
<use href="#s" x="320.5" y="417.4"/>
<use href="#s" x="321.0" y="420.1"/>
<use href="#s" x="321.5" y="420.9"/>
<use href="#s" x="322.0" y="418.0"/>
<use href="#s" x="322.5" y="417.3"/>
<use href="#s" x="323.0" y="424.6"/>
<use href="#s" x="323.5" y="422.1"/>
<use href="#s" x="324.0" y="424.0"/>
<use href="#s" x="324.5" y="427.3"/>
<use href="#s" x="325.0" y="426.1"/>
<use href="#s" x="325.5" y="433.0"/>
<use href="#s" x="326.0" y="430.0"/>
<use href="#s" x="326.5" y="432.5"/>
<use href="#s" x="327.0" y="430.7"/>
<use href="#s" x="327.5" y="426.8"/>
<use href="#s" x="328.0" y="430.0"/>
<use href="#s" x="328.5" y="430.0"/>
<use href="#s" x="329.0" y="426.8"/>
<use href="#s" x="329.5" y="432.4"/>
<use href="#s" x="330.0" y="432.0"/>
<use href="#s" x="330.5" y="437.4"/>
<use href="#s" x="331.0" y="433.1"/>
<use href="#s" x="331.5" y="438.1"/>
<use href="#s" x="332.0" y="440.0"/>
<use href="#s" x="332.5" y="441.3"/>
<use href="#s" x="333.0" y="442.1"/>
<use href="#s" x="333.5" y="446.4"/>
<use href="#s" x="334.0" y="446.0"/>
<use href="#s" x="334.5" y="450.4"/>
<use href="#s" x="335.0" y="448.8"/>
<use href="#s" x="335.5" y="447.3"/>
<use href="#s" x="336.0" y="448.0"/>
<use href="#s" x="336.5" y="452.7"/>
<use href="#s" x="337.0" y="447.5"/>
<use href="#s" x="337.5" y="451.7"/>
<use href="#s" x="338.0" y="450.0"/>
<use href="#s" x="338.5" y="452.4"/>
<use href="#s" x="339.0" y="454.4"/>
<use href="#s" x="339.5" y="456.2"/>
<use href="#s" x="340.0" y="454.0"/>
<use href="#s" x="340.5" y="453.5"/>
<use href="#s" x="341.0" y="459.1"/>
<use href="#s" x="341.5" y="459.1"/>
<use href="#s" x="342.0" y="462.0"/>
<use href="#s" x="342.5" y="461.5"/>
<use href="#s" x="343.0" y="458.0"/>
<use href="#s" x="343.5" y="459.3"/>
<use href="#s" x="344.0" y="452.0"/>
<use href="#s" x="344.5" y="449.2"/>
<use href="#s" x="345.0" y="444.0"/>
<use href="#s" x="345.5" y="438.6"/>
<use href="#s" x="346.0" y="441.7"/>
<use href="#s" x="346.5" y="442.9"/>
<use href="#s" x="347.0" y="440.0"/>
<use href="#s" x="347.5" y="442.9"/>
<use href="#s" x="348.0" y="440.4"/>
<use href="#s" x="348.5" y="441.3"/>
<use href="#s" x="349.0" y="438.0"/>
<use href="#s" x="349.5" y="432.7"/>
<use href="#s" x="350.0" y="440.0"/>
<use href="#s" x="350.5" y="437.1"/>
<use href="#s" x="351.0" y="434.0"/>
<use href="#s" x="351.5" y="434.2"/>
<use href="#s" x="352.0" y="436.1"/>
<use href="#s" x="352.5" y="435.2"/>
<use href="#s" x="353.0" y="431.0"/>
<use href="#s" x="353.5" y="427.4"/>
<use href="#s" x="354.0" y="433.8"/>
<use href="#s" x="354.5" y="433.4"/>
<use href="#s" x="355.0" y="431.0"/>
<use href="#s" x="355.5" y="427.3"/>
<use href="#s" x="356.0" y="431.2"/>
<use href="#s" x="356.5" y="428.8"/>
<use href="#s" x="357.0" y="427.0"/>
<use href="#s" x="357.5" y="423.5"/>
<use href="#s" x="358.0" y="428.2"/>
<use href="#s" x="358.5" y="421.5"/>
<use href="#s" x="359.0" y="424.0"/>
<use href="#s" x="359.5" y="426.5"/>
<use href="#s" x="360.0" y="426.4"/>
<use href="#s" x="360.5" y="426.3"/>
<use href="#s" x="361.0" y="430.0"/>
<use href="#s" x="361.5" y="429.3"/>
<use href="#s" x="362.0" y="427.2"/>
<use href="#s" x="362.5" y="423.6"/>
<use href="#s" x="363.0" y="425.0"/>
<use href="#s" x="363.5" y="427.7"/>
<use href="#s" x="364.0" y="418.2"/>
<use href="#s" x="364.5" y="416.0"/>
<use href="#s" x="365.0" y="419.0"/>
<use href="#s" x="365.5" y="420.6"/>
<use href="#s" x="366.0" y="425.5"/>
<use href="#s" x="366.5" y="425.7"/>
<use href="#s" x="367.0" y="426.0"/>
<use href="#s" x="367.5" y="429.3"/>
<use href="#s" x="368.0" y="427.9"/>
<use href="#s" x="368.5" y="430.6"/>
<use href="#s" x="369.0" y="430.0"/>
<use href="#s" x="369.5" y="428.0"/>
<use href="#s" x="370.0" y="426.9"/>
<use href="#s" x="370.5" y="428.5"/>
<use href="#s" x="371.0" y="428.0"/>
<use href="#s" x="371.5" y="424.0"/>
<use href="#s" x="372.0" y="424.7"/>
<use href="#s" x="372.5" y="431.0"/>
<use href="#s" x="373.0" y="429.0"/>
<use href="#s" x="373.5" y="426.3"/>
<use href="#s" x="374.0" y="431.8"/>
<use href="#s" x="374.5" y="432.3"/>
<use href="#s" x="375.0" y="430.0"/>
<use href="#s" x="375.5" y="429.6"/>
<use href="#s" x="376.0" y="432.6"/>
<use href="#s" x="376.5" y="434.1"/>
<use href="#s" x="377.0" y="432.0"/>
<use href="#s" x="377.5" y="435.5"/>
<use href="#s" x="378.0" y="429.2"/>
<use href="#s" x="378.5" y="429.7"/>
<use href="#s" x="379.0" y="433.0"/>
<use href="#s" x="379.5" y="432.2"/>
<use href="#s" x="380.0" y="433.2"/>
<use href="#s" x="380.5" y="431.9"/>
<use href="#s" x="381.0" y="434.0"/>
<use href="#s" x="381.5" y="429.8"/>
<use href="#s" x="382.0" y="435.0"/>
<use href="#s" x="382.5" y="439.0"/>
<use href="#s" x="383.0" y="435.0"/>
<use href="#s" x="383.5" y="434.5"/>
<use href="#s" x="384.0" y="436.8"/>
<use href="#s" x="384.5" y="436.2"/>
<use href="#s" x="385.0" y="438.0"/>
<use href="#s" x="385.5" y="441.5"/>
<use href="#s" x="386.0" y="446.0"/>
<use href="#s" x="386.5" y="452.3"/>
<use href="#s" x="387.0" y="452.0"/>
<use href="#s" x="387.5" y="454.3"/>
<use href="#s" x="388.0" y="460.0"/>
<use href="#s" x="388.5" y="463.3"/>
<use href="#s" x="389.0" y="463.9"/>
<use href="#s" x="389.5" y="466.3"/>
<use href="#s" x="390.0" y="468.0"/>
<use href="#s" x="390.5" y="474.7"/>
<use href="#s" x="391.0" y="474.0"/>
<use href="#s" x="391.5" y="468.2"/>
<use href="#s" x="392.0" y="470.0"/>
<use href="#s" x="392.5" y="468.9"/>
<use href="#s" x="393.0" y="462.0"/>
<use href="#s" x="393.5" y="457.2"/>
<use href="#s" x="394.0" y="456.0"/>
<use href="#s" x="394.5" y="453.3"/>
<use href="#s" x="395.0" y="448.0"/>
<use href="#s" x="395.5" y="448.9"/>
<use href="#s" x="396.0" y="445.9"/>
<use href="#s" x="396.5" y="441.8"/>
<use href="#s" x="397.0" y="441.0"/>
<use href="#s" x="397.5" y="443.3"/>
<use href="#s" x="398.0" y="435.8"/>
<use href="#s" x="398.5" y="439.9"/>
<use href="#s" x="399.0" y="438.0"/>
<use href="#s" x="399.5" y="436.5"/>
<use href="#s" x="400.0" y="437.3"/>
<use href="#s" x="400.5" y="439.7"/>
<use href="#s" x="401.0" y="436.0"/>
<use href="#s" x="401.5" y="438.0"/>
<use href="#s" x="402.0" y="435.8"/>
<use href="#s" x="402.5" y="434.0"/>
<use href="#s" x="403.0" y="433.6"/>
<use href="#s" x="403.5" y="434.3"/>
<use href="#s" x="404.0" y="438.0"/>
<use href="#s" x="404.5" y="440.6"/>
<use href="#s" x="405.0" y="444.0"/>
<use href="#s" x="405.5" y="443.6"/>
<use href="#s" x="406.0" y="446.0"/>
<use href="#s" x="406.5" y="454.1"/>
<use href="#s" x="407.0" y="452.0"/>
<use href="#s" x="407.5" y="450.5"/>
<use href="#s" x="408.0" y="458.9"/>
<use href="#s" x="408.5" y="456.9"/>
<use href="#s" x="409.0" y="460.0"/>
<use href="#s" x="409.5" y="462.8"/>
<use href="#s" x="410.0" y="468.0"/>
<use href="#s" x="410.5" y="469.4"/>
<use href="#s" x="411.0" y="470.2"/>
<use href="#s" x="411.5" y="477.0"/>
<use href="#s" x="412.0" y="475.6"/>
<use href="#s" x="412.5" y="472.0"/>
<use href="#s" x="413.0" y="474.0"/>
<use href="#s" x="413.5" y="469.5"/>
<use href="#s" x="414.0" y="466.0"/>
<use href="#s" x="414.5" y="462.6"/>
<use href="#s" x="415.0" y="466.6"/>
<use href="#s" x="415.5" y="465.3"/>
<use href="#s" x="416.0" y="460.0"/>
<use href="#s" x="416.5" y="457.5"/>
<use href="#s" x="417.0" y="456.0"/>
<use href="#s" x="417.5" y="453.9"/>
<use href="#s" x="418.0" y="453.2"/>
<use href="#s" x="418.5" y="446.0"/>
<use href="#s" x="419.0" y="458.0"/>
<use href="#s" x="419.5" y="459.4"/>
<use href="#s" x="420.0" y="464.0"/>
<use href="#s" x="420.5" y="461.4"/>
<use href="#s" x="421.0" y="463.6"/>
<use href="#s" x="421.5" y="464.2"/>
<use href="#s" x="422.0" y="468.0"/>
<use href="#s" x="422.5" y="469.1"/>
<use href="#s" x="423.0" y="465.9"/>
<use href="#s" x="423.5" y="465.2"/>
<use href="#s" x="424.0" y="466.0"/>
<use href="#s" x="424.5" y="466.7"/>
<use href="#s" x="425.0" y="459.6"/>
<use href="#s" x="425.5" y="460.0"/>
<use href="#s" x="426.0" y="466.1"/>
<use href="#s" x="426.5" y="467.9"/>
<use href="#s" x="427.0" y="470.0"/>
<use href="#s" x="427.6" y="471.4"/>
<use href="#s" x="428.1" y="477.6"/>
<use href="#s" x="428.7" y="477.0"/>
<use href="#s" x="429.4" y="475.1"/>
<use href="#s" x="430.0" y="476.0"/>
<use href="#s" x="430.5" y="478.4"/>
<use href="#s" x="431.0" y="474.0"/>
<use href="#s" x="431.5" y="437.0"/>
<use href="#s" x="432.0" y="439.2"/>
<use href="#s" x="432.5" y="433.7"/>
<use href="#s" x="433.0" y="432.0"/>
<use href="#s" x="433.5" y="431.7"/>
<use href="#s" x="434.0" y="428.0"/>
<use href="#s" x="434.6" y="430.5"/>
<use href="#s" x="435.2" y="425.0"/>
<use href="#s" x="435.8" y="428.2"/>
<use href="#s" x="436.4" y="429.3"/>
<use href="#s" x="437.0" y="428.0"/>
<use href="#s" x="437.5" y="433.3"/>
<use href="#s" x="438.0" y="435.9"/>
<use href="#s" x="438.5" y="436.3"/>
<use href="#s" x="439.0" y="436.0"/>
<use href="#s" x="439.5" y="443.3"/>
<use href="#s" x="440.0" y="442.0"/>
<use href="#s" x="440.5" y="442.1"/>
<use href="#s" x="441.0" y="447.1"/>
<use href="#s" x="441.5" y="449.5"/>
<use href="#s" x="442.0" y="450.0"/>
<use href="#s" x="442.5" y="450.3"/>
<use href="#s" x="443.0" y="452.1"/>
<use href="#s" x="443.5" y="451.6"/>
<use href="#s" x="444.0" y="456.0"/>
<use href="#s" x="444.6" y="462.1"/>
<use href="#s" x="445.3" y="460.0"/>
<use href="#s" x="445.9" y="456.0"/>
<use href="#s" x="446.4" y="454.5"/>
<use href="#s" x="447.0" y="452.0"/>
<use href="#s" x="447.5" y="453.0"/>
<use href="#s" x="448.0" y="444.2"/>
<use href="#s" x="448.5" y="448.6"/>
<use href="#s" x="449.0" y="442.0"/>
<use href="#s" x="449.5" y="438.1"/>
<use href="#s" x="450.0" y="436.8"/>
<use href="#s" x="450.5" y="439.2"/>
<use href="#s" x="451.0" y="440.0"/>
<use href="#s" x="451.5" y="437.2"/>
<use href="#s" x="452.0" y="440.8"/>
<use href="#s" x="452.5" y="438.9"/>
<use href="#s" x="453.0" y="434.0"/>
<use href="#s" x="453.6" y="434.9"/>
<use href="#s" x="454.2" y="431.0"/>
<use href="#s" x="454.8" y="432.1"/>
<use href="#s" x="455.4" y="434.7"/>
<use href="#s" x="456.0" y="436.0"/>
<use href="#s" x="456.5" y="435.1"/>
<use href="#s" x="457.0" y="442.0"/>
<use href="#s" x="457.5" y="439.5"/>
<use href="#s" x="458.0" y="442.0"/>
<use href="#s" x="458.5" y="441.1"/>
<use href="#s" x="459.0" y="445.2"/>
<use href="#s" x="459.5" y="441.9"/>
<use href="#s" x="460.0" y="446.0"/>
<use href="#s" x="460.5" y="442.8"/>
<use href="#s" x="461.0" y="446.8"/>
<use href="#s" x="461.5" y="437.9"/>
<use href="#s" x="462.0" y="440.0"/>
<use href="#s" x="462.5" y="436.3"/>
<use href="#s" x="463.0" y="436.3"/>
<use href="#s" x="463.5" y="436.3"/>
<use href="#s" x="464.0" y="438.0"/>
<use href="#s" x="464.5" y="438.8"/>
<use href="#s" x="465.0" y="438.8"/>
<use href="#s" x="465.5" y="441.1"/>
<use href="#s" x="466.0" y="444.0"/>
<use href="#s" x="466.5" y="443.2"/>
<use href="#s" x="467.0" y="444.7"/>
<use href="#s" x="467.5" y="449.5"/>
<use href="#s" x="468.0" y="450.0"/>
<use href="#s" x="468.5" y="449.3"/>
<use href="#s" x="469.0" y="450.4"/>
<use href="#s" x="469.5" y="454.7"/>
<use href="#s" x="470.0" y="453.0"/>
<use href="#s" x="470.5" y="449.3"/>
<use href="#s" x="471.0" y="450.3"/>
<use href="#s" x="471.5" y="456.9"/>
<use href="#s" x="472.0" y="454.0"/>
<use href="#s" x="472.5" y="453.6"/>
<use href="#s" x="473.0" y="457.0"/>
<use href="#s" x="473.5" y="451.4"/>
<use href="#s" x="474.0" y="455.0"/>
<use href="#s" x="474.5" y="455.0"/>
<use href="#s" x="475.0" y="457.6"/>
<use href="#s" x="475.5" y="452.8"/>
<use href="#s" x="476.0" y="454.0"/>
<use href="#s" x="476.5" y="455.4"/>
<use href="#s" x="477.0" y="453.0"/>
<use href="#s" x="477.5" y="450.1"/>
<use href="#s" x="478.0" y="450.0"/>
<use href="#s" x="478.5" y="452.5"/>
<use href="#s" x="479.0" y="445.0"/>
<use href="#s" x="479.5" y="443.8"/>
<use href="#s" x="480.0" y="442.0"/>
<use href="#s" x="480.6" y="442.3"/>
<use href="#s" x="481.1" y="438.8"/>
<use href="#s" x="481.7" y="442.6"/>
<use href="#s" x="482.2" y="439.7"/>
<use href="#s" x="482.8" y="438.0"/>
<use href="#s" x="483.4" y="440.8"/>
<use href="#s" x="484.0" y="442.0"/>
<use href="#s" x="484.5" y="444.3"/>
<use href="#s" x="485.0" y="450.4"/>
<use href="#s" x="485.5" y="452.4"/>
<use href="#s" x="486.0" y="450.0"/>
<use href="#s" x="486.5" y="454.3"/>
<use href="#s" x="487.0" y="452.1"/>
<use href="#s" x="487.5" y="453.0"/>
<use href="#s" x="488.0" y="455.0"/>
<use href="#s" x="488.5" y="453.7"/>
<use href="#s" x="489.0" y="452.0"/>
<use href="#s" x="489.5" y="443.9"/>
<use href="#s" x="490.0" y="444.0"/>
<use href="#s" x="490.5" y="439.5"/>
<use href="#s" x="491.0" y="446.5"/>
<use href="#s" x="491.5" y="437.7"/>
<use href="#s" x="492.0" y="440.0"/>
<use href="#s" x="492.5" y="443.4"/>
<use href="#s" x="493.0" y="440.6"/>
<use href="#s" x="493.5" y="442.2"/>
<use href="#s" x="494.0" y="438.0"/>
<use href="#s" x="494.5" y="434.7"/>
<use href="#s" x="495.0" y="437.3"/>
<use href="#s" x="495.5" y="442.2"/>
<use href="#s" x="496.0" y="440.0"/>
<use href="#s" x="496.5" y="436.8"/>
<use href="#s" x="497.0" y="439.0"/>
<use href="#s" x="497.5" y="442.4"/>
<use href="#s" x="498.0" y="445.0"/>
<use href="#s" x="498.5" y="443.3"/>
<use href="#s" x="499.0" y="444.3"/>
<use href="#s" x="499.5" y="450.3"/>
<use href="#s" x="500.0" y="450.0"/>
<use href="#s" x="500.5" y="445.8"/>
<use href="#s" x="501.0" y="453.2"/>
<use href="#s" x="501.5" y="449.8"/>
<use href="#s" x="502.0" y="448.0"/>
<use href="#s" x="502.5" y="441.3"/>
<use href="#s" x="503.0" y="446.3"/>
<use href="#s" x="503.5" y="440.0"/>
<use href="#s" x="504.0" y="437.0"/>
<use href="#s" x="504.5" y="438.5"/>
<use href="#s" x="505.0" y="438.0"/>
<use href="#s" x="505.5" y="437.5"/>
<use href="#s" x="506.0" y="432.7"/>
<use href="#s" x="506.5" y="435.0"/>
<use href="#s" x="507.0" y="434.0"/>
<use href="#s" x="507.5" y="428.0"/>
<use href="#s" x="508.0" y="430.0"/>
<use href="#s" x="508.5" y="426.5"/>
<use href="#s" x="509.0" y="432.3"/>
<use href="#s" x="509.5" y="430.6"/>
<use href="#s" x="510.0" y="427.0"/>
<use href="#s" x="510.5" y="428.9"/>
<use href="#s" x="511.0" y="432.0"/>
<use href="#s" x="511.5" y="432.0"/>
<use href="#s" x="512.0" y="444.0"/>
<use href="#s" x="512.5" y="447.9"/>
<use href="#s" x="513.0" y="441.8"/>
<use href="#s" x="513.5" y="445.4"/>
<use href="#s" x="514.0" y="446.0"/>
<use href="#s" x="514.5" y="443.2"/>
<use href="#s" x="515.0" y="443.5"/>
<use href="#s" x="515.5" y="444.0"/>
<use href="#s" x="516.0" y="448.0"/>
<use href="#s" x="516.5" y="446.4"/>
<use href="#s" x="517.0" y="446.0"/>
<use href="#s" x="517.5" y="448.4"/>
<use href="#s" x="518.0" y="452.0"/>
<use href="#s" x="518.5" y="450.9"/>
<use href="#s" x="519.0" y="453.1"/>
<use href="#s" x="519.5" y="455.2"/>
<use href="#s" x="520.0" y="452.0"/>
<use href="#s" x="520.5" y="455.6"/>
<use href="#s" x="521.0" y="452.0"/>
<use href="#s" x="521.5" y="455.0"/>
<use href="#s" x="522.0" y="454.1"/>
<use href="#s" x="522.5" y="458.8"/>
<use href="#s" x="523.0" y="456.0"/>
<use href="#s" x="523.5" y="453.0"/>
<use href="#s" x="524.0" y="452.4"/>
<use href="#s" x="524.5" y="458.9"/>
<use href="#s" x="525.0" y="456.0"/>
<use href="#s" x="525.5" y="456.6"/>
<use href="#s" x="526.0" y="452.4"/>
<use href="#s" x="526.5" y="453.4"/>
<use href="#s" x="527.0" y="454.0"/>
<use href="#s" x="527.5" y="451.2"/>
<use href="#s" x="528.0" y="451.4"/>
<use href="#s" x="528.5" y="450.3"/>
<use href="#s" x="529.0" y="450.0"/>
<use href="#s" x="529.5" y="448.6"/>
<use href="#s" x="530.0" y="451.7"/>
<use href="#s" x="530.5" y="451.3"/>
<use href="#s" x="531.0" y="448.0"/>
<use href="#s" x="531.5" y="449.6"/>
<use href="#s" x="532.0" y="449.8"/>
<use href="#s" x="532.5" y="449.1"/>
<use href="#s" x="533.0" y="452.0"/>
<use href="#s" x="533.5" y="458.4"/>
<use href="#s" x="534.0" y="460.0"/>
<use href="#s" x="534.5" y="467.4"/>
<use href="#s" x="535.0" y="466.0"/>
<use href="#s" x="535.5" y="465.2"/>
<use href="#s" x="536.0" y="471.2"/>
<use href="#s" x="536.5" y="471.0"/>
<use href="#s" x="537.0" y="471.3"/>
<use href="#s" x="537.5" y="468.0"/>
<use href="#s" x="539.0" y="434.0"/>
<use href="#s" x="539.5" y="436.4"/>
<use href="#s" x="540.0" y="436.0"/>
<use href="#s" x="540.5" y="435.8"/>
<use href="#s" x="541.0" y="444.0"/>
<use href="#s" x="541.5" y="446.0"/>
<use href="#s" x="542.0" y="444.3"/>
<use href="#s" x="542.5" y="445.7"/>
<use href="#s" x="543.0" y="450.0"/>
<use href="#s" x="543.5" y="452.2"/>
<use href="#s" x="544.0" y="454.3"/>
<use href="#s" x="544.5" y="455.6"/>
<use href="#s" x="545.0" y="456.0"/>
<use href="#s" x="545.5" y="459.9"/>
<use href="#s" x="546.0" y="461.3"/>
<use href="#s" x="546.5" y="461.0"/>
<use href="#s" x="547.0" y="463.0"/>
<use href="#s" x="547.5" y="457.4"/>
<use href="#s" x="548.0" y="460.0"/>
<use href="#s" x="548.5" y="460.5"/>
<use href="#s" x="549.0" y="458.9"/>
<use href="#s" x="549.5" y="457.0"/>
<use href="#s" x="550.0" y="452.0"/>
<use href="#s" x="550.5" y="451.9"/>
<use href="#s" x="551.0" y="445.8"/>
<use href="#s" x="551.5" y="446.3"/>
<use href="#s" x="552.0" y="448.0"/>
<use href="#s" x="552.5" y="443.5"/>
<use href="#s" x="553.0" y="447.2"/>
<use href="#s" x="553.5" y="445.4"/>
<use href="#s" x="554.0" y="444.0"/>
<use href="#s" x="554.5" y="440.7"/>
<use href="#s" x="555.0" y="447.1"/>
<use href="#s" x="555.5" y="446.8"/>
<use href="#s" x="556.0" y="442.0"/>
<use href="#s" x="556.5" y="445.6"/>
<use href="#s" x="557.0" y="441.7"/>
<use href="#s" x="557.5" y="440.1"/>
<use href="#s" x="558.0" y="442.0"/>
<use href="#s" x="558.5" y="440.4"/>
<use href="#s" x="559.0" y="446.9"/>
<use href="#s" x="559.5" y="446.8"/>
<use href="#s" x="560.0" y="446.0"/>
<use href="#s" x="560.5" y="444.5"/>
<use href="#s" x="561.0" y="450.6"/>
<use href="#s" x="561.5" y="448.1"/>
<use href="#s" x="562.0" y="448.0"/>
<use href="#s" x="562.5" y="447.2"/>
<use href="#s" x="563.0" y="447.2"/>
<use href="#s" x="563.5" y="450.0"/>
<use href="#s" x="564.0" y="448.0"/>
<use href="#s" x="564.5" y="448.1"/>
<use href="#s" x="565.0" y="450.4"/>
<use href="#s" x="565.5" y="446.1"/>
<use href="#s" x="566.0" y="450.0"/>
<use href="#s" x="566.5" y="452.8"/>
<use href="#s" x="567.0" y="450.0"/>
<use href="#s" x="567.5" y="456.7"/>
<use href="#s" x="568.0" y="454.0"/>
<use href="#s" x="568.5" y="450.9"/>
<use href="#s" x="569.0" y="451.5"/>
<use href="#s" x="569.5" y="452.8"/>
<use href="#s" x="570.0" y="452.0"/>
<use href="#s" x="570.5" y="451.5"/>
<use href="#s" x="571.0" y="453.2"/>
<use href="#s" x="571.5" y="457.3"/>
<use href="#s" x="572.0" y="454.0"/>
<use href="#s" x="572.5" y="451.8"/>
<use href="#s" x="573.0" y="457.4"/>
<use href="#s" x="573.5" y="457.2"/>
<use href="#s" x="574.0" y="456.0"/>
<use href="#s" x="574.5" y="459.6"/>
<use href="#s" x="575.0" y="457.5"/>
<use href="#s" x="575.5" y="458.6"/>
<use href="#s" x="576.0" y="460.0"/>
<use href="#s" x="576.5" y="459.3"/>
<use href="#s" x="576.9" y="461.1"/>
<use href="#s" x="577.4" y="462.0"/>
<use href="#s" x="577.9" y="457.8"/>
<use href="#s" x="578.5" y="455.2"/>
<use href="#s" x="579.0" y="456.0"/>
<use href="#s" x="579.5" y="453.8"/>
<use href="#s" x="580.0" y="449.2"/>
<use href="#s" x="580.5" y="449.7"/>
<use href="#s" x="581.0" y="448.0"/>
<use href="#s" x="581.6" y="447.3"/>
<use href="#s" x="582.1" y="443.6"/>
<use href="#s" x="582.7" y="444.0"/>
<use href="#s" x="583.4" y="443.0"/>
<use href="#s" x="584.0" y="448.0"/>
<use href="#s" x="584.5" y="450.9"/>
<use href="#s" x="585.0" y="455.2"/>
<use href="#s" x="585.5" y="451.5"/>
<use href="#s" x="586.0" y="456.0"/>
<use href="#s" x="586.5" y="458.0"/>
<use href="#s" x="587.0" y="459.4"/>
<use href="#s" x="587.5" y="462.5"/>
<use href="#s" x="588.0" y="460.0"/>
<use href="#s" x="588.5" y="463.1"/>
<use href="#s" x="589.0" y="461.3"/>
<use href="#s" x="589.5" y="461.9"/>
<use href="#s" x="590.0" y="466.0"/>
<use href="#s" x="590.5" y="470.5"/>
<use href="#s" x="591.0" y="467.2"/>
<use href="#s" x="591.5" y="466.1"/>
<use href="#s" x="592.0" y="472.0"/>
<use href="#s" x="592.5" y="473.8"/>
<use href="#s" x="593.0" y="466.3"/>
<use href="#s" x="593.5" y="465.8"/>
<use href="#s" x="594.0" y="466.0"/>
<use href="#s" x="594.5" y="459.4"/>
<use href="#s" x="595.0" y="456.0"/>
<use href="#s" x="595.5" y="452.1"/>
<use href="#s" x="596.0" y="454.7"/>
<use href="#s" x="596.5" y="451.0"/>
<use href="#s" x="597.0" y="451.3"/>
<use href="#s" x="597.5" y="453.8"/>
<use href="#s" x="598.0" y="456.0"/>
<use href="#s" x="598.5" y="456.3"/>
<use href="#s" x="599.0" y="461.0"/>
<use href="#s" x="599.5" y="454.7"/>
<use href="#s" x="600.0" y="460.0"/>
<use href="#s" x="600.5" y="460.2"/>
<use href="#s" x="601.0" y="455.7"/>
<use href="#s" x="601.5" y="455.4"/>
<use href="#s" x="602.0" y="458.0"/>
<use href="#s" x="602.5" y="457.5"/>
<use href="#s" x="603.0" y="453.9"/>
<use href="#s" x="603.5" y="449.6"/>
<use href="#s" x="604.0" y="452.0"/>
<use href="#s" x="604.5" y="452.3"/>
<use href="#s" x="605.0" y="454.7"/>
<use href="#s" x="605.5" y="451.8"/>
<use href="#s" x="606.0" y="450.0"/>
<use href="#s" x="606.5" y="449.0"/>
<use href="#s" x="607.0" y="450.7"/>
<use href="#s" x="607.5" y="450.7"/>
<use href="#s" x="608.0" y="446.0"/>
<use href="#s" x="608.5" y="442.1"/>
<use href="#s" x="609.0" y="442.7"/>
<use href="#s" x="609.5" y="447.9"/>
<use href="#s" x="610.0" y="443.0"/>
<use href="#s" x="610.5" y="446.1"/>
<use href="#s" x="611.0" y="438.8"/>
<use href="#s" x="611.5" y="442.6"/>
<use href="#s" x="612.0" y="440.0"/>
<use href="#s" x="612.5" y="443.1"/>
<use href="#s" x="613.0" y="440.3"/>
<use href="#s" x="613.5" y="441.1"/>
<use href="#s" x="614.0" y="439.0"/>
<use href="#s" x="614.5" y="440.5"/>
<use href="#s" x="615.0" y="439.1"/>
<use href="#s" x="615.5" y="440.2"/>
<use href="#s" x="616.0" y="444.0"/>
<use href="#s" x="616.5" y="442.1"/>
<use href="#s" x="617.0" y="449.5"/>
<use href="#s" x="617.5" y="446.7"/>
<use href="#s" x="618.0" y="452.0"/>
<use href="#s" x="618.5" y="454.1"/>
<use href="#s" x="619.0" y="454.0"/>
<use href="#s" x="619.5" y="451.5"/>
<use href="#s" x="620.0" y="450.4"/>
<use href="#s" x="620.5" y="453.7"/>
<use href="#s" x="621.0" y="448.0"/>
<use href="#s" x="621.5" y="446.5"/>
<use href="#s" x="622.0" y="446.8"/>
<use href="#s" x="622.5" y="445.4"/>
<use href="#s" x="623.0" y="446.0"/>
<use href="#s" x="623.5" y="443.4"/>
<use href="#s" x="624.0" y="443.5"/>
<use href="#s" x="624.5" y="446.3"/>
<use href="#s" x="625.0" y="446.0"/>
<use href="#s" x="625.5" y="448.4"/>
<use href="#s" x="626.0" y="441.3"/>
<use href="#s" x="626.5" y="448.5"/>
<use href="#s" x="627.0" y="444.0"/>
<use href="#s" x="627.5" y="444.6"/>
<use href="#s" x="628.0" y="438.0"/>
<use href="#s" x="628.5" y="442.9"/>
<use href="#s" x="629.0" y="440.0"/>
<use href="#s" x="629.5" y="438.1"/>
<use href="#s" x="630.0" y="438.1"/>
<use href="#s" x="630.5" y="433.4"/>
<use href="#s" x="631.0" y="436.0"/>
<use href="#s" x="631.5" y="435.4"/>
<use href="#s" x="632.0" y="434.8"/>
<use href="#s" x="632.5" y="434.0"/>
</g>
<path d="M102.6,516.1 L104.6,509.3 L106.6,502.4 L108.6,495.6 L110.6,488.7 L112.6,481.9 L114.6,475.2 L116.6,468.6 L118.6,462.1 L120.6,455.8 L122.6,449.6 L124.6,443.7 L126.6,438.0 L128.6,432.5 L130.6,427.3 L132.6,422.3 L134.6,417.6 L136.6,413.2 L138.6,409.1 L140.6,405.3 L142.6,401.9 L144.6,398.7 L146.6,395.9 L148.6,393.3 L150.6,391.1 L152.6,389.3 L154.6,387.7 L156.6,386.4 L158.6,385.5 L160.6,384.9 L162.6,384.5 L164.6,384.4 L166.6,384.6 L168.6,385.1 L170.6,385.8 L172.6,386.8 L174.6,387.9 L176.6,389.3 L178.6,390.9 L180.6,392.7 L182.6,394.6 L184.6,396.7 L186.6,399.0 L188.6,401.4 L190.6,403.8 L192.6,406.4 L194.6,409.1 L196.6,411.8 L198.6,414.6 L200.6,417.4 L202.6,420.2 L204.6,423.1 L206.6,425.9 L208.6,428.7 L210.6,431.5 L212.6,434.3 L214.6,437.0 L216.6,439.7 L218.6,442.3 L220.6,444.8 L222.6,447.2 L224.6,449.5 L226.6,451.7 L228.6,453.9 L230.6,455.9 L232.6,457.7 L234.6,459.5 L236.6,461.1 L238.6,462.7 L240.6,464.0 L242.6,465.3 L244.6,466.4 L246.6,467.4 L248.6,468.2 L250.6,469.0 L252.6,469.5 L254.6,470.0 L256.6,470.3 L258.6,470.6 L260.6,470.6 L262.6,470.6 L264.6,470.5 L266.6,470.2 L268.6,469.9 L270.6,469.5 L272.6,468.9 L274.6,468.3 L276.6,467.6 L278.6,466.9 L280.6,466.0 L282.6,465.1 L284.6,464.2 L286.6,463.2 L288.6,462.1 L290.6,461.0 L292.6,459.9 L294.6,458.8 L296.6,457.6 L298.6,456.5 L300.6,455.3 L302.6,454.1 L304.6,452.9 L306.6,451.8 L308.6,450.6 L310.6,449.5 L312.6,448.3 L314.6,447.3 L316.6,446.2 L318.6,445.2 L320.6,444.2 L322.6,443.3 L324.6,442.3 L326.6,441.5 L328.6,440.7 L330.6,439.9 L332.6,439.2 L334.6,438.6 L336.6,438.0 L338.6,437.4 L340.6,436.9 L342.6,436.5 L344.6,436.1 L346.6,435.8 L348.6,435.5 L350.6,435.3 L352.6,435.1 L354.6,435.0 L356.6,434.9 L358.6,434.9 L360.6,435.0 L362.6,435.0 L364.6,435.1 L366.6,435.3 L368.6,435.5 L370.6,435.7 L372.6,436.0 L374.6,436.3 L376.6,436.6 L378.6,437.0 L380.6,437.4 L382.6,437.8 L384.6,438.2 L386.6,438.7 L388.6,439.1 L390.6,439.6 L392.6,440.1 L394.6,440.5 L396.6,441.0 L398.6,441.5 L400.6,442.0 L402.6,442.5 L404.6,443.0 L406.6,443.4 L408.6,443.9 L410.6,444.4 L412.6,444.8 L414.6,445.2 L416.6,445.7 L418.6,446.1 L420.6,446.4 L422.6,446.8 L424.6,447.2 L426.6,447.5 L428.6,447.8 L430.6,448.1 L432.6,448.3 L434.6,448.6 L436.6,448.8 L438.6,449.0 L440.6,449.2 L442.6,449.3 L444.6,449.4 L446.6,449.5 L448.6,449.6 L450.6,449.7 L452.6,449.7 L454.6,449.7 L456.6,449.7 L458.6,449.7 L460.6,449.7 L462.6,449.6 L464.6,449.5 L466.6,449.4 L468.6,449.3 L470.6,449.2 L472.6,449.1 L474.6,448.9 L476.6,448.8 L478.6,448.6 L480.6,448.5 L482.6,448.3 L484.6,448.1 L486.6,447.9 L488.6,447.7 L490.6,447.5 L492.6,447.3 L494.6,447.1 L496.6,446.9 L498.6,446.7 L500.6,446.5 L502.6,446.3 L504.6,446.1 L506.6,445.9 L508.6,445.7 L510.6,445.5 L512.6,445.4 L514.6,445.2 L516.6,445.0 L518.6,444.9 L520.6,444.7 L522.6,444.6 L524.6,444.5 L526.6,444.3 L528.6,444.2 L530.6,444.1 L532.6,444.0 L534.6,443.9 L536.6,443.9 L538.6,443.8 L540.6,443.7 L542.6,443.7 L544.6,443.7 L546.6,443.6 L548.6,443.6 L550.6,443.6 L552.6,443.6 L554.6,443.6 L556.6,443.6 L558.6,443.6 L560.6,443.7 L562.6,443.7 L564.6,443.7 L566.6,443.8 L568.6,443.8 L570.6,443.9 L572.6,443.9 L574.6,444.0 L576.6,444.1 L578.6,444.1 L580.6,444.2 L582.6,444.3 L584.6,444.4 L586.6,444.5 L588.6,444.5 L590.6,444.6 L592.6,444.7 L594.6,444.8 L596.6,444.9 L598.6,445.0 L600.6,445.0 L602.6,445.1 L604.6,445.2 L606.6,445.3 L608.6,445.4 L610.6,445.4 L612.6,445.5 L614.6,445.6 L616.6,445.6 L618.6,445.7 L620.6,445.7 L622.6,445.8 L624.6,445.8 L626.6,445.9 L628.6,445.9 L630.6,446.0" fill="none" stroke="#c61b43" stroke-width="2"/>
<rect x="445.2" y="289.7" width="203.0" height="67.6" rx="4" fill="#fafbfc" fill-opacity="0.85" stroke="#d6d6d6" stroke-width="1"/>
<line x1="452.6" y1="306.4" x2="495.6" y2="306.4" stroke="#87ceeb" stroke-opacity="0.9" stroke-width="1.3"/>
<use href="#s" transform="translate(474.3,306.4) scale(0.8)" fill="#87ceeb" fill-opacity="0.9"/>
<line x1="452.6" y1="337.2" x2="495.6" y2="337.2" stroke="#c61b43" stroke-width="2"/>
</g>
<rect x="72.4" y="1.0" width="586.1" height="254.7" fill="none" stroke="#3c3c3c" stroke-width="1.25"/>
<line x1="65.4" y1="31.1" x2="72.4" y2="31.1" stroke="#555" stroke-width="1.1"/>
<line x1="65.4" y1="106.2" x2="72.4" y2="106.2" stroke="#555" stroke-width="1.1"/>
<line x1="65.4" y1="180.8" x2="72.4" y2="180.8" stroke="#555" stroke-width="1.1"/>
<line x1="165.1" y1="255.7" x2="165.1" y2="263.0" stroke="#555" stroke-width="1.1"/>
<line x1="265.0" y1="255.7" x2="265.0" y2="263.0" stroke="#555" stroke-width="1.1"/>
<line x1="362.9" y1="255.7" x2="362.9" y2="263.0" stroke="#555" stroke-width="1.1"/>
<line x1="462.6" y1="255.7" x2="462.6" y2="263.0" stroke="#555" stroke-width="1.1"/>
<line x1="560.6" y1="255.7" x2="560.6" y2="263.0" stroke="#555" stroke-width="1.1"/>
<rect x="72.4" y="278.5" width="586.1" height="254.79999999999995" fill="none" stroke="#3c3c3c" stroke-width="1.25"/>
<line x1="65.4" y1="308.6" x2="72.4" y2="308.6" stroke="#555" stroke-width="1.1"/>
<line x1="65.4" y1="383.2" x2="72.4" y2="383.2" stroke="#555" stroke-width="1.1"/>
<line x1="65.4" y1="457.8" x2="72.4" y2="457.8" stroke="#555" stroke-width="1.1"/>
<line x1="165.1" y1="533.3" x2="165.1" y2="540.5999999999999" stroke="#555" stroke-width="1.1"/>
<line x1="265.0" y1="533.3" x2="265.0" y2="540.5999999999999" stroke="#555" stroke-width="1.1"/>
<line x1="362.9" y1="533.3" x2="362.9" y2="540.5999999999999" stroke="#555" stroke-width="1.1"/>
<line x1="462.6" y1="533.3" x2="462.6" y2="540.5999999999999" stroke="#555" stroke-width="1.1"/>
<line x1="560.6" y1="533.3" x2="560.6" y2="540.5999999999999" stroke="#555" stroke-width="1.1"/>
<g fill="#000" opacity="0.999">
<text transform="matrix(1.0935,0,0,1.0059,25.41,39.90)" font-family="Liberation Sans" font-size="24">2.0</text>
<text transform="matrix(1.0867,0,0,1.0118,25.23,114.90)" font-family="Liberation Sans" font-size="24">1.5</text>
<text transform="matrix(1.1000,0,0,1.0118,25.20,189.90)" font-family="Liberation Sans" font-size="24">1.0</text>
<text transform="matrix(1.0129,0,0,0.9706,511.99,67.10)" font-family="Liberation Sans" font-size="24">Oscillator fit</text>
<text transform="matrix(0.8571,0,0,1.0714,512.14,34.90)" font-family="Liberation Sans" font-size="21" font-style="italic">R</text>
<text transform="matrix(1.0935,0,0,1.0059,25.41,317.40)" font-family="Liberation Sans" font-size="24">2.0</text>
<text transform="matrix(1.0867,0,0,1.0118,25.23,392.40)" font-family="Liberation Sans" font-size="24">1.5</text>
<text transform="matrix(1.1000,0,0,1.0118,25.20,467.40)" font-family="Liberation Sans" font-size="24">1.0</text>
<text transform="matrix(1.0129,0,0,0.9706,511.99,344.60)" font-family="Liberation Sans" font-size="24">Oscillator fit</text>
<text transform="matrix(0.8571,0,0,1.0714,512.14,312.40)" font-family="Liberation Sans" font-size="21" font-style="italic">R</text>
<text transform="matrix(1.1909,0,0,1.0364,526.80,38.50)" font-family="Liberation Sans" font-size="15" font-style="italic">in</text>
<text transform="matrix(1.2000,0,0,1.0200,525.60,315.80)" font-family="Liberation Sans" font-size="15" font-style="italic">out</text>
<text transform="matrix(1.1214,0,0,1.0429,340.46,630.70)" font-family="Liberation Sans" font-size="21">Date</text>
<text transform="matrix(0.9158,0,0,1.0059,634.60,242.90)" font-family="Liberation Serif" font-size="26" font-weight="bold">A</text>
<text transform="matrix(0.9529,0,0,0.9882,636.80,522.90)" font-family="Liberation Serif" font-size="26" font-weight="bold">B</text>
<g transform="rotate(-90)"><text transform="matrix(0.8643,0,0,1.0500,-142.76,15.80)" font-family="Liberation Sans" font-size="21" font-style="italic">R</text></g>
<g transform="rotate(-90)"><text transform="matrix(1.0909,0,0,1.0636,-127.60,19.60)" font-family="Liberation Sans" font-size="15" font-style="italic">in</text></g>
<g transform="rotate(-90)"><text transform="matrix(0.8429,0,0,1.0286,-426.34,15.80)" font-family="Liberation Sans" font-size="21" font-style="italic">R</text></g>
<g transform="rotate(-90)"><text transform="matrix(1.1500,0,0,1.0900,-411.65,19.80)" font-family="Liberation Sans" font-size="15" font-style="italic">out</text></g>
<text transform="translate(162.15,560.30) rotate(-30) scale(1.0935,1.0059)" font-family="Liberation Sans" font-size="24" text-anchor="end">2016/08</text>
<text transform="translate(262.05,560.30) rotate(-30) scale(1.0935,1.0059)" font-family="Liberation Sans" font-size="24" text-anchor="end">2017/02</text>
<text transform="translate(359.95,560.30) rotate(-30) scale(1.0935,1.0059)" font-family="Liberation Sans" font-size="24" text-anchor="end">2017/08</text>
<text transform="translate(459.65,560.30) rotate(-30) scale(1.0935,1.0059)" font-family="Liberation Sans" font-size="24" text-anchor="end">2018/02</text>
<text transform="translate(557.65,560.30) rotate(-30) scale(1.0935,1.0059)" font-family="Liberation Sans" font-size="24" text-anchor="end">2018/08</text>
</g>
</svg>
</body></html>
